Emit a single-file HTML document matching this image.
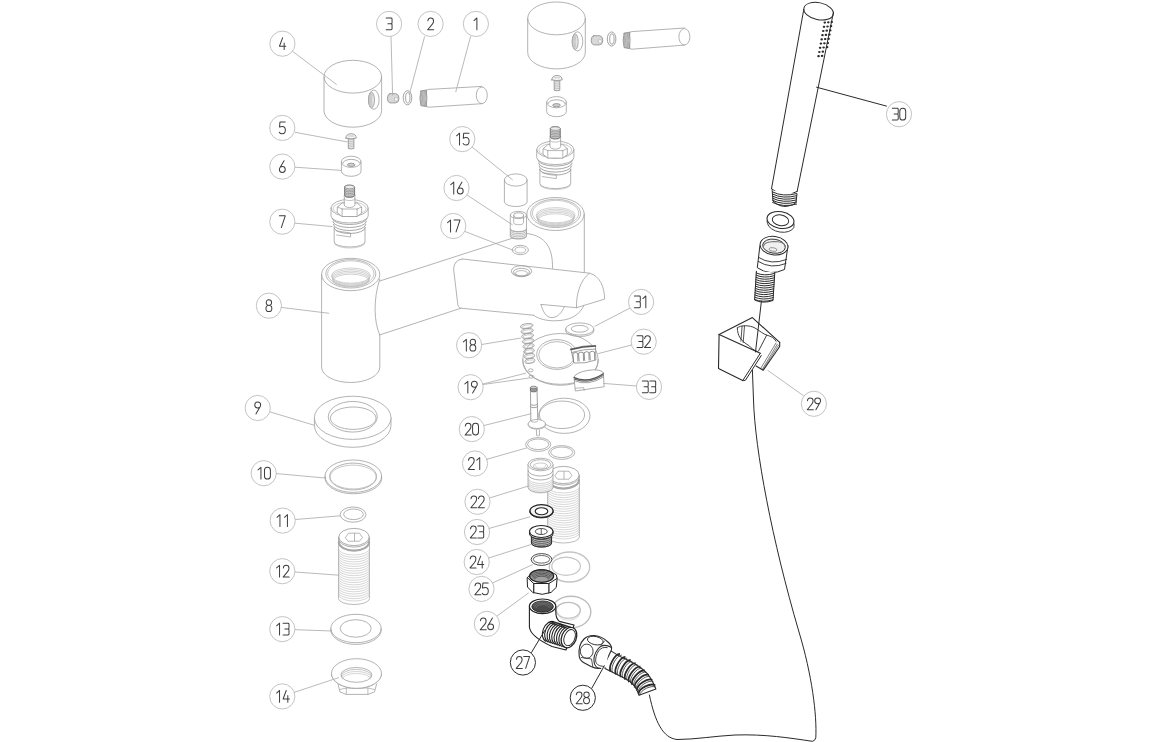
<!DOCTYPE html>
<html><head><meta charset="utf-8"><style>
html,body{margin:0;padding:0;background:#fff;width:1156px;height:742px;overflow:hidden;font-family:"Liberation Sans",sans-serif;}
svg{display:block}
</style></head><body>
<svg width="1156" height="742" viewBox="0 0 1156 742">
<rect width="1156" height="742" fill="#fff"/>
<g>
<path d="M324.0,76.7 L324.0,110.7 A28.8,16.5 0 0 0 381.6,110.7 L381.6,76.7" fill="none" stroke="#a0a0a0" stroke-width="0.8" stroke-linejoin="round" stroke-linecap="round"/>
<ellipse cx="352.8" cy="76.7" rx="28.8" ry="16.4" fill="none" stroke="#a0a0a0" stroke-width="0.8"/>
<ellipse cx="373.8" cy="99.7" rx="5.3" ry="9.6" fill="none" stroke="#a0a0a0" stroke-width="0.8"/>
<ellipse cx="371.5" cy="100.0" rx="3.0" ry="7.8" fill="#e4e4e4" stroke="#9a9a9a" stroke-width="0.8"/>
<path d="M370.0,93.2 Q368.3,100.0 370.0,106.7" fill="none" stroke="#aaa" stroke-width="0.5" stroke-linejoin="round" stroke-linecap="round"/>
<path d="M371.1,93.5 Q369.40000000000003,100.0 371.1,106.4" fill="none" stroke="#aaa" stroke-width="0.5" stroke-linejoin="round" stroke-linecap="round"/>
<path d="M372.2,93.8 Q370.5,100.0 372.2,106.10000000000001" fill="none" stroke="#aaa" stroke-width="0.5" stroke-linejoin="round" stroke-linecap="round"/>
<path d="M389.9,93.7 L395.9,93.7 Q399.0,94.3 399.0,98.3 Q399.0,102.5 395.9,102.89999999999999 L389.9,102.89999999999999 Q387.4,102.3 387.4,98.3 Q387.4,94.3 389.9,93.7 Z" fill="#d9d9d9" stroke="#8a8a8a" stroke-width="0.8" stroke-linejoin="round" stroke-linecap="round"/>
<path d="M394.9,97.8 L397.9,97.8 L397.9,100.8 L394.9,100.8 Z" fill="#fafafa" stroke="#aaa" stroke-width="0.5" stroke-linejoin="round" stroke-linecap="round"/>
<ellipse cx="407.5" cy="97.8" rx="4.3" ry="7.1" fill="none" stroke="#8d8d8d" stroke-width="0.8"/>
<ellipse cx="407.8" cy="97.8" rx="2.2" ry="5.2" fill="none" stroke="#8d8d8d" stroke-width="0.8"/>
<path d="M426.7,90.0 Q427.4,89.6 428.9,89.39999999999999 L481.8,86.4 M426.7,106.6 Q427.4,107.1 428.9,107.2 L481.8,103.69999999999999" fill="none" stroke="#a0a0a0" stroke-width="0.8" stroke-linejoin="round" stroke-linecap="round"/>
<path d="M426.7,90.0 Q425.2,98.19999999999999 426.7,106.6" fill="none" stroke="#999" stroke-width="0.6" stroke-linejoin="round" stroke-linecap="round"/>
<ellipse cx="481.8" cy="95.3" rx="5.5" ry="8.299999999999999" fill="none" stroke="#a0a0a0" stroke-width="0.8"/>
<path d="M420.9,91.1 L426.2,90.0 Q427.59999999999997,98.19999999999999 426.2,106.6 L420.9,105.6 Q418.79999999999995,98.19999999999999 420.9,91.1 Z" fill="#d4d4d4" stroke="#888" stroke-width="0.8" stroke-linejoin="round" stroke-linecap="round"/>
<path d="M421.9,90.8 Q420.1,98.19999999999999 421.9,105.8" fill="none" stroke="#8a8a8a" stroke-width="0.55" stroke-linejoin="round" stroke-linecap="round"/>
<path d="M423.2,90.8 Q421.4,98.19999999999999 423.2,105.8" fill="none" stroke="#8a8a8a" stroke-width="0.55" stroke-linejoin="round" stroke-linecap="round"/>
<path d="M424.5,90.8 Q422.7,98.19999999999999 424.5,105.8" fill="none" stroke="#8a8a8a" stroke-width="0.55" stroke-linejoin="round" stroke-linecap="round"/>
<path d="M425.8,90.8 Q424.0,98.19999999999999 425.8,105.8" fill="none" stroke="#8a8a8a" stroke-width="0.55" stroke-linejoin="round" stroke-linecap="round"/>
<path d="M348.3,138.3 L348.3,148.5 Q351.1,149.5 353.90000000000003,148.5 L353.90000000000003,138.3" fill="#ececec" stroke="#8a8a8a" stroke-width="0.8" stroke-linejoin="round" stroke-linecap="round"/>
<line x1="348.3" y1="140.0" x2="353.90000000000003" y2="139.3" stroke="#9a9a9a" stroke-width="0.5"/>
<line x1="348.3" y1="141.8" x2="353.90000000000003" y2="141.10000000000002" stroke="#9a9a9a" stroke-width="0.5"/>
<line x1="348.3" y1="143.6" x2="353.90000000000003" y2="142.9" stroke="#9a9a9a" stroke-width="0.5"/>
<line x1="348.3" y1="145.4" x2="353.90000000000003" y2="144.70000000000002" stroke="#9a9a9a" stroke-width="0.5"/>
<line x1="348.3" y1="147.2" x2="353.90000000000003" y2="146.5" stroke="#9a9a9a" stroke-width="0.5"/>
<path d="M345.90000000000003,138.1 Q345.90000000000003,133.9 351.1,133.7 Q356.3,133.9 356.3,138.1 Q351.1,139.7 345.90000000000003,138.1 Z" fill="#f4f4f4" stroke="#8a8a8a" stroke-width="0.8" stroke-linejoin="round" stroke-linecap="round"/>
<path d="M348.6,136.0 L353.6,136.0" fill="none" stroke="#aaa" stroke-width="0.6" stroke-linejoin="round" stroke-linecap="round"/>
<path d="M341.4,161.8 L341.4,171.3 A9.8,5 0 0 0 361.0,171.3 L361.0,161.8" fill="none" stroke="#a0a0a0" stroke-width="0.8" stroke-linejoin="round" stroke-linecap="round"/>
<ellipse cx="351.2" cy="161.8" rx="9.8" ry="5.6" fill="none" stroke="#a0a0a0" stroke-width="0.8"/>
<path d="M342.9,163.0 A8.3,3.6 0 0 1 359.5,163.0" fill="none" stroke="#9a9a9a" stroke-width="0.8" stroke-linejoin="round" stroke-linecap="round"/>
<ellipse cx="351.2" cy="164.8" rx="3.8" ry="1.6" fill="#cfcfcf" stroke="#888" stroke-width="0.8"/>
<path d="M334.20000000000005,228.0 L334.20000000000005,242.0 A15.4,5 0 0 0 365.0,242.0 L365.0,228.0" fill="none" stroke="#a0a0a0" stroke-width="0.8" stroke-linejoin="round" stroke-linecap="round"/>
<path d="M334.20000000000005,243.0 A15.4,5 0 0 0 365.0,243.0" fill="none" stroke="#b0b0b0" stroke-width="0.6" stroke-linejoin="round" stroke-linecap="round"/>
<path d="M332.3,218.5 A17.3,6 0 0 0 366.90000000000003,218.5" fill="none" stroke="#909090" stroke-width="0.8" stroke-linejoin="round" stroke-linecap="round"/>
<path d="M332.8,221.5 A16.8,6 0 0 0 366.40000000000003,221.5" fill="none" stroke="#909090" stroke-width="0.8" stroke-linejoin="round" stroke-linecap="round"/>
<path d="M333.3,224.5 A16.3,6 0 0 0 365.90000000000003,224.5" fill="none" stroke="#909090" stroke-width="0.8" stroke-linejoin="round" stroke-linecap="round"/>
<path d="M333.8,227.5 A15.8,6 0 0 0 365.40000000000003,227.5" fill="none" stroke="#909090" stroke-width="0.8" stroke-linejoin="round" stroke-linecap="round"/>
<path d="M331.0,208.0 L331.0,216.0 A18.6,7 0 0 0 368.20000000000005,216.0 L368.20000000000005,208.0" fill="none" stroke="#a0a0a0" stroke-width="0.8" stroke-linejoin="round" stroke-linecap="round"/>
<ellipse cx="349.6" cy="208.0" rx="18.6" ry="8.6" fill="none" stroke="#a0a0a0" stroke-width="0.8"/>
<ellipse cx="349.6" cy="208.5" rx="16.5" ry="6.8" fill="none" stroke="#b0b0b0" stroke-width="0.6"/>
<path d="M337.6,207.0 L342.1,203.0 L357.1,203.0 L361.6,207.0 L361.6,213.0 L357.1,216.5 L342.1,216.5 L337.6,213.0 Z" fill="#fff" stroke="#999" stroke-width="0.8" stroke-linejoin="round" stroke-linecap="round"/>
<path d="M342.1,209.0 L357.1,209.0 M342.1,209.0 L342.1,216.5 M357.1,209.0 L357.1,216.5 M337.6,207.0 L342.1,209.0 M361.6,207.0 L357.1,209.0" fill="none" stroke="#999" stroke-width="0.7" stroke-linejoin="round" stroke-linecap="round"/>
<path d="M344.3,195.0 L344.3,205.0 A5.3,2.5 0 0 0 354.90000000000003,205.0 L354.90000000000003,195.0" fill="#fff" stroke="#a0a0a0" stroke-width="0.8" stroke-linejoin="round" stroke-linecap="round"/>
<path d="M344.3,198.5 A5.3,2 0 0 0 354.90000000000003,198.5" fill="none" stroke="#999" stroke-width="0.6" stroke-linejoin="round" stroke-linecap="round"/>
<path d="M344.6,187.0 L344.6,195.5 A5,2 0 0 0 354.6,195.5 L354.6,187.0 A5,2 0 0 0 344.6,187.0 Z" fill="#d8d8d8" stroke="#707070" stroke-width="0.8" stroke-linejoin="round" stroke-linecap="round"/>
<path d="M344.6,188.5 A5,1.8 0 0 0 354.6,188.5" fill="none" stroke="#666" stroke-width="0.55" stroke-linejoin="round" stroke-linecap="round"/>
<path d="M344.6,190.1 A5,1.8 0 0 0 354.6,190.1" fill="none" stroke="#666" stroke-width="0.55" stroke-linejoin="round" stroke-linecap="round"/>
<path d="M344.6,191.7 A5,1.8 0 0 0 354.6,191.7" fill="none" stroke="#666" stroke-width="0.55" stroke-linejoin="round" stroke-linecap="round"/>
<path d="M344.6,193.3 A5,1.8 0 0 0 354.6,193.3" fill="none" stroke="#666" stroke-width="0.55" stroke-linejoin="round" stroke-linecap="round"/>
<path d="M344.6,194.9 A5,1.8 0 0 0 354.6,194.9" fill="none" stroke="#666" stroke-width="0.55" stroke-linejoin="round" stroke-linecap="round"/>
<ellipse cx="349.6" cy="187.0" rx="4.8" ry="1.8" fill="#ececec" stroke="#777" stroke-width="0.6"/>
<path d="M336.6,231.0 L350.6,233.0 L350.6,237.0 L336.6,235.0" fill="none" stroke="#999" stroke-width="0.7" stroke-linejoin="round" stroke-linecap="round"/>
<path d="M527.7,18.400000000000006 L527.7,52.400000000000006 A28.8,16.5 0 0 0 585.3,52.400000000000006 L585.3,18.400000000000006" fill="none" stroke="#a0a0a0" stroke-width="0.8" stroke-linejoin="round" stroke-linecap="round"/>
<ellipse cx="556.5" cy="18.400000000000006" rx="28.8" ry="16.4" fill="none" stroke="#a0a0a0" stroke-width="0.8"/>
<ellipse cx="577.5" cy="41.400000000000006" rx="5.3" ry="9.6" fill="none" stroke="#a0a0a0" stroke-width="0.8"/>
<ellipse cx="575.2" cy="41.7" rx="3.0" ry="7.8" fill="#e4e4e4" stroke="#9a9a9a" stroke-width="0.8"/>
<path d="M573.7,34.900000000000006 Q572.0,41.7 573.7,48.400000000000006" fill="none" stroke="#aaa" stroke-width="0.5" stroke-linejoin="round" stroke-linecap="round"/>
<path d="M574.8000000000001,35.2 Q573.1,41.7 574.8000000000001,48.10000000000001" fill="none" stroke="#aaa" stroke-width="0.5" stroke-linejoin="round" stroke-linecap="round"/>
<path d="M575.9000000000001,35.50000000000001 Q574.2,41.7 575.9000000000001,47.800000000000004" fill="none" stroke="#aaa" stroke-width="0.5" stroke-linejoin="round" stroke-linecap="round"/>
<path d="M593.7,35.699999999999996 L599.7,35.699999999999996 Q602.8000000000001,36.3 602.8000000000001,40.3 Q602.8000000000001,44.5 599.7,44.9 L593.7,44.9 Q591.2,44.3 591.2,40.3 Q591.2,36.3 593.7,35.699999999999996 Z" fill="#d9d9d9" stroke="#8a8a8a" stroke-width="0.8" stroke-linejoin="round" stroke-linecap="round"/>
<path d="M598.7,39.8 L601.7,39.8 L601.7,42.8 L598.7,42.8 Z" fill="#fafafa" stroke="#aaa" stroke-width="0.5" stroke-linejoin="round" stroke-linecap="round"/>
<ellipse cx="611.6" cy="39.0" rx="4.3" ry="7.1" fill="none" stroke="#8d8d8d" stroke-width="0.8"/>
<ellipse cx="611.9" cy="39.0" rx="2.2" ry="5.2" fill="none" stroke="#8d8d8d" stroke-width="0.8"/>
<path d="M629.9,32.2 Q630.6,31.8 632.1,31.6 L684.4,27.999999999999996 M629.9,48.599999999999994 Q630.6,49.099999999999994 632.1,49.199999999999996 L684.4,45.099999999999994" fill="none" stroke="#a0a0a0" stroke-width="0.8" stroke-linejoin="round" stroke-linecap="round"/>
<path d="M629.9,32.2 Q628.4,40.3 629.9,48.599999999999994" fill="none" stroke="#999" stroke-width="0.6" stroke-linejoin="round" stroke-linecap="round"/>
<ellipse cx="684.4" cy="36.8" rx="5.5" ry="8.2" fill="none" stroke="#a0a0a0" stroke-width="0.8"/>
<path d="M624.1,33.3 L629.4,32.2 Q630.8000000000001,40.3 629.4,48.599999999999994 L624.1,47.599999999999994 Q622.0,40.3 624.1,33.3 Z" fill="#d4d4d4" stroke="#888" stroke-width="0.8" stroke-linejoin="round" stroke-linecap="round"/>
<path d="M625.1,33.0 Q623.3,40.3 625.1,47.8" fill="none" stroke="#8a8a8a" stroke-width="0.55" stroke-linejoin="round" stroke-linecap="round"/>
<path d="M626.4,33.0 Q624.6,40.3 626.4,47.8" fill="none" stroke="#8a8a8a" stroke-width="0.55" stroke-linejoin="round" stroke-linecap="round"/>
<path d="M627.7,33.0 Q625.9,40.3 627.7,47.8" fill="none" stroke="#8a8a8a" stroke-width="0.55" stroke-linejoin="round" stroke-linecap="round"/>
<path d="M629.0,33.0 Q627.2,40.3 629.0,47.8" fill="none" stroke="#8a8a8a" stroke-width="0.55" stroke-linejoin="round" stroke-linecap="round"/>
<path d="M554.2,80.1 L554.2,90.3 Q557.0,91.3 559.8,90.3 L559.8,80.1" fill="#ececec" stroke="#8a8a8a" stroke-width="0.8" stroke-linejoin="round" stroke-linecap="round"/>
<line x1="554.2" y1="81.8" x2="559.8" y2="81.1" stroke="#9a9a9a" stroke-width="0.5"/>
<line x1="554.2" y1="83.6" x2="559.8" y2="82.89999999999999" stroke="#9a9a9a" stroke-width="0.5"/>
<line x1="554.2" y1="85.39999999999999" x2="559.8" y2="84.69999999999999" stroke="#9a9a9a" stroke-width="0.5"/>
<line x1="554.2" y1="87.2" x2="559.8" y2="86.5" stroke="#9a9a9a" stroke-width="0.5"/>
<line x1="554.2" y1="89.0" x2="559.8" y2="88.3" stroke="#9a9a9a" stroke-width="0.5"/>
<path d="M551.8,79.89999999999999 Q551.8,75.7 557.0,75.5 Q562.2,75.7 562.2,79.89999999999999 Q557.0,81.5 551.8,79.89999999999999 Z" fill="#f4f4f4" stroke="#8a8a8a" stroke-width="0.8" stroke-linejoin="round" stroke-linecap="round"/>
<path d="M554.5,77.8 L559.5,77.8" fill="none" stroke="#aaa" stroke-width="0.6" stroke-linejoin="round" stroke-linecap="round"/>
<path d="M546.7,102.2 L546.7,111.7 A9.8,5 0 0 0 566.3,111.7 L566.3,102.2" fill="none" stroke="#a0a0a0" stroke-width="0.8" stroke-linejoin="round" stroke-linecap="round"/>
<ellipse cx="556.5" cy="102.2" rx="9.8" ry="5.6" fill="none" stroke="#a0a0a0" stroke-width="0.8"/>
<path d="M548.2,103.4 A8.3,3.6 0 0 1 564.8,103.4" fill="none" stroke="#9a9a9a" stroke-width="0.8" stroke-linejoin="round" stroke-linecap="round"/>
<ellipse cx="556.5" cy="105.2" rx="3.8" ry="1.6" fill="#cfcfcf" stroke="#888" stroke-width="0.8"/>
<path d="M539.9,169.6 L539.9,183.6 A15.4,5 0 0 0 570.6999999999999,183.6 L570.6999999999999,169.6" fill="none" stroke="#a0a0a0" stroke-width="0.8" stroke-linejoin="round" stroke-linecap="round"/>
<path d="M539.9,184.6 A15.4,5 0 0 0 570.6999999999999,184.6" fill="none" stroke="#b0b0b0" stroke-width="0.6" stroke-linejoin="round" stroke-linecap="round"/>
<path d="M538.0,160.1 A17.3,6 0 0 0 572.5999999999999,160.1" fill="none" stroke="#909090" stroke-width="0.8" stroke-linejoin="round" stroke-linecap="round"/>
<path d="M538.5,163.1 A16.8,6 0 0 0 572.0999999999999,163.1" fill="none" stroke="#909090" stroke-width="0.8" stroke-linejoin="round" stroke-linecap="round"/>
<path d="M539.0,166.1 A16.3,6 0 0 0 571.5999999999999,166.1" fill="none" stroke="#909090" stroke-width="0.8" stroke-linejoin="round" stroke-linecap="round"/>
<path d="M539.5,169.1 A15.8,6 0 0 0 571.0999999999999,169.1" fill="none" stroke="#909090" stroke-width="0.8" stroke-linejoin="round" stroke-linecap="round"/>
<path d="M536.6999999999999,149.6 L536.6999999999999,157.6 A18.6,7 0 0 0 573.9,157.6 L573.9,149.6" fill="none" stroke="#a0a0a0" stroke-width="0.8" stroke-linejoin="round" stroke-linecap="round"/>
<ellipse cx="555.3" cy="149.6" rx="18.6" ry="8.6" fill="none" stroke="#a0a0a0" stroke-width="0.8"/>
<ellipse cx="555.3" cy="150.1" rx="16.5" ry="6.8" fill="none" stroke="#b0b0b0" stroke-width="0.6"/>
<path d="M543.3,148.6 L547.8,144.6 L562.8,144.6 L567.3,148.6 L567.3,154.6 L562.8,158.1 L547.8,158.1 L543.3,154.6 Z" fill="#fff" stroke="#999" stroke-width="0.8" stroke-linejoin="round" stroke-linecap="round"/>
<path d="M547.8,150.6 L562.8,150.6 M547.8,150.6 L547.8,158.1 M562.8,150.6 L562.8,158.1 M543.3,148.6 L547.8,150.6 M567.3,148.6 L562.8,150.6" fill="none" stroke="#999" stroke-width="0.7" stroke-linejoin="round" stroke-linecap="round"/>
<path d="M550.0,136.6 L550.0,146.6 A5.3,2.5 0 0 0 560.5999999999999,146.6 L560.5999999999999,136.6" fill="#fff" stroke="#a0a0a0" stroke-width="0.8" stroke-linejoin="round" stroke-linecap="round"/>
<path d="M550.0,140.1 A5.3,2 0 0 0 560.5999999999999,140.1" fill="none" stroke="#999" stroke-width="0.6" stroke-linejoin="round" stroke-linecap="round"/>
<path d="M550.3,128.6 L550.3,137.1 A5,2 0 0 0 560.3,137.1 L560.3,128.6 A5,2 0 0 0 550.3,128.6 Z" fill="#d8d8d8" stroke="#707070" stroke-width="0.8" stroke-linejoin="round" stroke-linecap="round"/>
<path d="M550.3,130.1 A5,1.8 0 0 0 560.3,130.1" fill="none" stroke="#666" stroke-width="0.55" stroke-linejoin="round" stroke-linecap="round"/>
<path d="M550.3,131.7 A5,1.8 0 0 0 560.3,131.7" fill="none" stroke="#666" stroke-width="0.55" stroke-linejoin="round" stroke-linecap="round"/>
<path d="M550.3,133.3 A5,1.8 0 0 0 560.3,133.3" fill="none" stroke="#666" stroke-width="0.55" stroke-linejoin="round" stroke-linecap="round"/>
<path d="M550.3,134.9 A5,1.8 0 0 0 560.3,134.9" fill="none" stroke="#666" stroke-width="0.55" stroke-linejoin="round" stroke-linecap="round"/>
<path d="M550.3,136.5 A5,1.8 0 0 0 560.3,136.5" fill="none" stroke="#666" stroke-width="0.55" stroke-linejoin="round" stroke-linecap="round"/>
<ellipse cx="555.3" cy="128.6" rx="4.8" ry="1.8" fill="#ececec" stroke="#777" stroke-width="0.6"/>
<path d="M542.3,172.6 L556.3,174.6 L556.3,178.6 L542.3,176.6" fill="none" stroke="#999" stroke-width="0.7" stroke-linejoin="round" stroke-linecap="round"/>
<path d="M379.8,281 L513.6,237.8" fill="none" stroke="#a0a0a0" stroke-width="0.8" stroke-linejoin="round" stroke-linecap="round"/>
<path d="M379.8,334.9 L461,308.2" fill="none" stroke="#a0a0a0" stroke-width="0.8" stroke-linejoin="round" stroke-linecap="round"/>
<path d="M526.8,233.4 C546,236 553,248 552.5,268.3" fill="none" stroke="#a0a0a0" stroke-width="0.8" stroke-linejoin="round" stroke-linecap="round"/>
<path d="M584.3,214 L584.3,272" fill="none" stroke="#a0a0a0" stroke-width="0.8" stroke-linejoin="round" stroke-linecap="round"/>
<ellipse cx="555.5" cy="214" rx="28.7" ry="16.5" fill="none" stroke="#a0a0a0" stroke-width="0.8"/>
<ellipse cx="555.6" cy="213.4" rx="25.0" ry="14.2" fill="none" stroke="#a8a8a8" stroke-width="0.8"/>
<ellipse cx="555.6" cy="213.2" rx="23.2" ry="12.8" fill="none" stroke="#b0b0b0" stroke-width="0.7"/>
<ellipse cx="555.6" cy="215.2" rx="19.5" ry="7.6" fill="none" stroke="#bdbdbd" stroke-width="0.7"/>
<ellipse cx="555.6" cy="216.45" rx="19.1" ry="7.3" fill="none" stroke="#bdbdbd" stroke-width="0.7"/>
<ellipse cx="555.6" cy="217.7" rx="18.7" ry="7.0" fill="none" stroke="#bdbdbd" stroke-width="0.7"/>
<ellipse cx="555.6" cy="218.95" rx="18.3" ry="6.699999999999999" fill="none" stroke="#bdbdbd" stroke-width="0.7"/>
<ellipse cx="555.6" cy="220.2" rx="17.9" ry="6.3999999999999995" fill="none" stroke="#bdbdbd" stroke-width="0.7"/>
<path d="M321.6,274.5 L321.6,367 A29.1,15.5 0 0 0 379.8,367 L379.8,335 C374,322 373,300 379.8,279" fill="none" stroke="#a0a0a0" stroke-width="0.8" stroke-linejoin="round" stroke-linecap="round"/>
<ellipse cx="350.7" cy="274.5" rx="29.1" ry="16.2" fill="none" stroke="#a0a0a0" stroke-width="0.8"/>
<ellipse cx="350.8" cy="273.8" rx="25.0" ry="14.2" fill="none" stroke="#a8a8a8" stroke-width="0.8"/>
<ellipse cx="350.8" cy="273.6" rx="23.2" ry="12.8" fill="none" stroke="#b0b0b0" stroke-width="0.7"/>
<ellipse cx="350.9" cy="275.6" rx="19.5" ry="7.6" fill="none" stroke="#bdbdbd" stroke-width="0.7"/>
<ellipse cx="350.9" cy="276.85" rx="19.1" ry="7.3" fill="none" stroke="#bdbdbd" stroke-width="0.7"/>
<ellipse cx="350.9" cy="278.1" rx="18.7" ry="7.0" fill="none" stroke="#bdbdbd" stroke-width="0.7"/>
<ellipse cx="350.9" cy="279.35" rx="18.3" ry="6.699999999999999" fill="none" stroke="#bdbdbd" stroke-width="0.7"/>
<ellipse cx="350.9" cy="280.6" rx="17.9" ry="6.3999999999999995" fill="none" stroke="#bdbdbd" stroke-width="0.7"/>
<path d="M462.3,259 L589.5,273.2 C600,276 604.5,287 604.6,299.1 L576.5,307.7 L541,304.4" fill="none" stroke="#a0a0a0" stroke-width="0.8" stroke-linejoin="round" stroke-linecap="round"/>
<path d="M462.3,259 Q454,260 453.6,269.1 L457.6,302.8 Q458,308 461,308.2 L533.4,315.2" fill="none" stroke="#a0a0a0" stroke-width="0.8" stroke-linejoin="round" stroke-linecap="round"/>
<path d="M589.5,273.2 C580,280 576,295 576.5,307.7" fill="none" stroke="#a0a0a0" stroke-width="0.8" stroke-linejoin="round" stroke-linecap="round"/>
<path d="M541,304.4 C543,312 546,317.5 552,317.6 C558,317.5 562,312 564.2,307.1" fill="none" stroke="#a0a0a0" stroke-width="0.8" stroke-linejoin="round" stroke-linecap="round"/>
<path d="M533.4,315.2 C540,320 550,321.5 560,320.5 C572,319.5 580,314 583.6,306.1" fill="none" stroke="#a0a0a0" stroke-width="0.8" stroke-linejoin="round" stroke-linecap="round"/>
<ellipse cx="521.5" cy="271.2" rx="10.2" ry="5.5" fill="none" stroke="#a0a0a0" stroke-width="0.8"/>
<ellipse cx="521.5" cy="272.3" rx="8.2" ry="4.0" fill="none" stroke="#999" stroke-width="0.8"/>
<ellipse cx="521.5" cy="273.2" rx="6.0" ry="2.6" fill="none" stroke="#aaa" stroke-width="0.8"/>
<path d="M514.3,272.8 A7.2,3.2 0 0 0 528.7,272.8" fill="none" stroke="#aaa" stroke-width="0.6" stroke-linejoin="round" stroke-linecap="round"/>
<path d="M504.4,180 L504.4,202 A11.4,5 0 0 0 527.1,202 L527.1,180" fill="none" stroke="#a0a0a0" stroke-width="0.8" stroke-linejoin="round" stroke-linecap="round"/>
<ellipse cx="515.75" cy="180" rx="11.35" ry="6.1" fill="none" stroke="#a0a0a0" stroke-width="0.8"/>
<path d="M510.3,215 L510.3,236.5 A8.1,2.6 0 0 0 526.5,236.5 L526.5,215" fill="#fff" stroke="#a0a0a0" stroke-width="0.8" stroke-linejoin="round" stroke-linecap="round"/>
<path d="M510.6,229.8 A7.9,2.6 0 0 0 526.2,229.8" fill="none" stroke="#8a8a8a" stroke-width="0.6" stroke-linejoin="round" stroke-linecap="round"/>
<path d="M510.6,231.4 A7.9,2.6 0 0 0 526.2,231.4" fill="none" stroke="#8a8a8a" stroke-width="0.6" stroke-linejoin="round" stroke-linecap="round"/>
<path d="M510.6,233.0 A7.9,2.6 0 0 0 526.2,233.0" fill="none" stroke="#8a8a8a" stroke-width="0.6" stroke-linejoin="round" stroke-linecap="round"/>
<path d="M510.6,234.6 A7.9,2.6 0 0 0 526.2,234.6" fill="none" stroke="#8a8a8a" stroke-width="0.6" stroke-linejoin="round" stroke-linecap="round"/>
<path d="M510.6,236.2 A7.9,2.6 0 0 0 526.2,236.2" fill="none" stroke="#8a8a8a" stroke-width="0.6" stroke-linejoin="round" stroke-linecap="round"/>
<path d="M510.3,229 A8.1,2.6 0 0 0 526.5,229" fill="none" stroke="#9a9a9a" stroke-width="0.7" stroke-linejoin="round" stroke-linecap="round"/>
<ellipse cx="518.4" cy="215" rx="8.1" ry="3.6" fill="#fff" stroke="#a0a0a0" stroke-width="0.8"/>
<ellipse cx="518.6" cy="215.3" rx="4.9" ry="2.5" fill="none" stroke="#999" stroke-width="0.8"/>
<path d="M513.7,215.5 L513.7,222.5 A4.9,2.2 0 0 0 523.5,222.5 L523.5,215.5" fill="none" stroke="#999" stroke-width="0.7" stroke-linejoin="round" stroke-linecap="round"/>
<ellipse cx="520.3" cy="250.0" rx="8.1" ry="4.7" fill="none" stroke="#a0a0a0" stroke-width="0.8"/>
<ellipse cx="520.3" cy="250.0" rx="5.5" ry="3.0" fill="none" stroke="#aaa" stroke-width="0.8"/>
<path d="M522.8,359.4 L522.8,362.5 A37.7,23 0 0 0 598.1,362.5 L598.1,359.4" fill="none" stroke="#a0a0a0" stroke-width="0.8" stroke-linejoin="round" stroke-linecap="round"/>
<ellipse cx="560.5" cy="359.4" rx="37.7" ry="25.9" fill="none" stroke="#a0a0a0" stroke-width="0.8"/>
<ellipse cx="556.9" cy="354.5" rx="20.2" ry="14.9" fill="none" stroke="#a0a0a0" stroke-width="0.8"/>
<ellipse cx="556.9" cy="354.8" rx="18.2" ry="13.2" fill="none" stroke="#aaa" stroke-width="0.8"/>
<ellipse cx="530.7" cy="370.3" rx="2.4" ry="1.5" fill="none" stroke="#a0a0a0" stroke-width="0.8"/>
<ellipse cx="531.5" cy="376.7" rx="2.4" ry="1.5" fill="none" stroke="#a0a0a0" stroke-width="0.8"/>
<ellipse cx="526.7" cy="326.0" rx="6.4" ry="2.4" fill="none" stroke="#9a9a9a" stroke-width="0.8" transform="rotate(-8 526.7 326.0)"/>
<ellipse cx="526.7" cy="326.5" rx="5.2" ry="1.5" fill="none" stroke="#b0b0b0" stroke-width="0.6" transform="rotate(-8 526.7 326.5)"/>
<ellipse cx="527.16" cy="331.0" rx="6.21" ry="2.4" fill="none" stroke="#9a9a9a" stroke-width="0.8" transform="rotate(-8 527.16 331.0)"/>
<ellipse cx="527.16" cy="331.5" rx="5.01" ry="1.5" fill="none" stroke="#b0b0b0" stroke-width="0.6" transform="rotate(-8 527.16 331.5)"/>
<ellipse cx="527.61" cy="336.0" rx="6.03" ry="2.4" fill="none" stroke="#9a9a9a" stroke-width="0.8" transform="rotate(-8 527.61 336.0)"/>
<ellipse cx="527.61" cy="336.5" rx="4.83" ry="1.5" fill="none" stroke="#b0b0b0" stroke-width="0.6" transform="rotate(-8 527.61 336.5)"/>
<ellipse cx="528.07" cy="341.0" rx="5.84" ry="2.4" fill="none" stroke="#9a9a9a" stroke-width="0.8" transform="rotate(-8 528.07 341.0)"/>
<ellipse cx="528.07" cy="341.5" rx="4.64" ry="1.5" fill="none" stroke="#b0b0b0" stroke-width="0.6" transform="rotate(-8 528.07 341.5)"/>
<ellipse cx="528.53" cy="346.0" rx="5.66" ry="2.4" fill="none" stroke="#9a9a9a" stroke-width="0.8" transform="rotate(-8 528.53 346.0)"/>
<ellipse cx="528.53" cy="346.5" rx="4.46" ry="1.5" fill="none" stroke="#b0b0b0" stroke-width="0.6" transform="rotate(-8 528.53 346.5)"/>
<ellipse cx="528.99" cy="351.0" rx="5.47" ry="2.4" fill="none" stroke="#9a9a9a" stroke-width="0.8" transform="rotate(-8 528.99 351.0)"/>
<ellipse cx="528.99" cy="351.5" rx="4.27" ry="1.5" fill="none" stroke="#b0b0b0" stroke-width="0.6" transform="rotate(-8 528.99 351.5)"/>
<ellipse cx="529.44" cy="356.0" rx="5.29" ry="2.4" fill="none" stroke="#9a9a9a" stroke-width="0.8" transform="rotate(-8 529.44 356.0)"/>
<ellipse cx="529.44" cy="356.5" rx="4.09" ry="1.5" fill="none" stroke="#b0b0b0" stroke-width="0.6" transform="rotate(-8 529.44 356.5)"/>
<ellipse cx="529.9" cy="361.0" rx="5.1" ry="2.4" fill="none" stroke="#9a9a9a" stroke-width="0.8" transform="rotate(-8 529.9 361.0)"/>
<ellipse cx="529.9" cy="361.5" rx="3.9" ry="1.5" fill="none" stroke="#b0b0b0" stroke-width="0.6" transform="rotate(-8 529.9 361.5)"/>
<path d="M570.9,349 L574,363 Q585,364 595.9,360 L595.5,345.5 Q583,345 570.9,349 Z" fill="#fff" stroke="#888" stroke-width="0.8" stroke-linejoin="round" stroke-linecap="round"/>
<path d="M571.5,352.5 Q583,349 595.7,349" fill="none" stroke="#888" stroke-width="0.8" stroke-linejoin="round" stroke-linecap="round"/>
<path d="M571.0,349.5 Q583,346.2 595.5,346.0" fill="none" stroke="#555" stroke-width="1.6" stroke-linejoin="round" stroke-linecap="round"/>
<path d="M573.5,361.5 L572.9,353.5 Q575.5,351.5 577.7,353.2 L577.9,361.0" fill="none" stroke="#777" stroke-width="0.8" stroke-linejoin="round" stroke-linecap="round"/>
<path d="M579.1,361.0 L578.5,353.1 Q581.1,351.1 583.3,352.8 L583.5,360.5" fill="none" stroke="#777" stroke-width="0.8" stroke-linejoin="round" stroke-linecap="round"/>
<path d="M584.7,360.5 L584.1,352.7 Q586.7,350.7 588.9,352.4 L589.1,360.0" fill="none" stroke="#777" stroke-width="0.8" stroke-linejoin="round" stroke-linecap="round"/>
<path d="M590.3,360.0 L589.7,352.3 Q592.3,350.3 594.5,352.0 L594.7,359.5" fill="none" stroke="#777" stroke-width="0.8" stroke-linejoin="round" stroke-linecap="round"/>
<path d="M574,377 L575.3,391 L604.2,386.7 L603.3,372.7" fill="#fff" stroke="#999" stroke-width="0.8" stroke-linejoin="round" stroke-linecap="round"/>
<path d="M575.3,388.3 L583.7,387.6 L584.1,390.5" fill="none" stroke="#999" stroke-width="0.7" stroke-linejoin="round" stroke-linecap="round"/>
<ellipse cx="588.7" cy="375.2" rx="14.7" ry="4.9" fill="#fff" stroke="#999" stroke-width="0.8" transform="rotate(-9 588.7 375.2)"/>
<path d="M574.2,377.6 Q588,383.8 603.3,373.8" fill="none" stroke="#555" stroke-width="1.2" stroke-linejoin="round" stroke-linecap="round"/>
<path d="M574.4,379.2 Q588,385.2 603.4,375.4" fill="none" stroke="#666" stroke-width="1.0" stroke-linejoin="round" stroke-linecap="round"/>
<path d="M574.5,380.8 Q588,386.6 603.5,377.0" fill="none" stroke="#888" stroke-width="0.8" stroke-linejoin="round" stroke-linecap="round"/>
<path d="M565.7,329 L565.7,331 A14,5.5 0 0 0 593.8,331 L593.8,329" fill="none" stroke="#a0a0a0" stroke-width="0.8" stroke-linejoin="round" stroke-linecap="round"/>
<ellipse cx="579.75" cy="329" rx="14.05" ry="6.1" fill="none" stroke="#a0a0a0" stroke-width="0.8"/>
<ellipse cx="579.75" cy="328.8" rx="8.5" ry="3.4" fill="none" stroke="#a0a0a0" stroke-width="0.8"/>
<ellipse cx="564.3" cy="415.8" rx="25.7" ry="17.6" fill="none" stroke="#a0a0a0" stroke-width="0.8"/>
<ellipse cx="562.0" cy="414.8" rx="22.6" ry="13.75" fill="none" stroke="#a0a0a0" stroke-width="0.8"/>
<path d="M530.5,389 L530.8,421 M537.0,389 L537.8,421" fill="none" stroke="#8a8a8a" stroke-width="0.8" stroke-linejoin="round" stroke-linecap="round"/>
<path d="M530.4,387.5 L530.4,390.5 A3.3,1.4 0 0 0 537.0,390.5 L537.0,387.5" fill="#9a9a9a" stroke="#666" stroke-width="0.8" stroke-linejoin="round" stroke-linecap="round"/>
<ellipse cx="533.7" cy="387.5" rx="3.3" ry="1.3" fill="#d0d0d0" stroke="#666" stroke-width="0.7"/>
<path d="M530.6,404.3 A3.5,1.4 0 0 0 537.3,404.3 M530.6,406.7 A3.5,1.4 0 0 0 537.3,406.7" fill="none" stroke="#8a8a8a" stroke-width="0.8" stroke-linejoin="round" stroke-linecap="round"/>
<path d="M528.1,424 L528.3,425.5 A8.7,4.3 0 0 0 545.5,425.5 L545.5,424" fill="#fff" stroke="#a0a0a0" stroke-width="0.8" stroke-linejoin="round" stroke-linecap="round"/>
<ellipse cx="536.8" cy="424.0" rx="8.7" ry="4.5" fill="#fff" stroke="#a0a0a0" stroke-width="0.8"/>
<path d="M530.8,421 A3.6,1.6 0 0 0 537.8,421" fill="none" stroke="#999" stroke-width="0.7" stroke-linejoin="round" stroke-linecap="round"/>
<line x1="536.4" y1="429.5" x2="536.6" y2="435.5" stroke="#a0a0a0" stroke-width="0.8"/>
<line x1="539.4" y1="429.5" x2="539.4" y2="435.5" stroke="#a0a0a0" stroke-width="0.8"/>
<path d="M536.6,435.5 A1.5,0.7 0 0 0 539.4,435.5" fill="none" stroke="#a0a0a0" stroke-width="0.7" stroke-linejoin="round" stroke-linecap="round"/>
<ellipse cx="538.2" cy="444.5" rx="12.6" ry="6.9" fill="none" stroke="#a0a0a0" stroke-width="0.8"/>
<ellipse cx="538.2" cy="444.3" rx="10.6" ry="5.3" fill="none" stroke="#a0a0a0" stroke-width="0.8"/>
<ellipse cx="561.7" cy="452.5" rx="13.1" ry="6.9" fill="none" stroke="#a0a0a0" stroke-width="0.8"/>
<ellipse cx="561.7" cy="452.3" rx="11.0" ry="5.3" fill="none" stroke="#a0a0a0" stroke-width="0.8"/>
<path d="M547.6,475.0 L547.6,537.0 A15.9,6 0 0 0 579.4,537.0 L579.4,475.0" fill="#fff" stroke="#a8a8a8" stroke-width="0.8" stroke-linejoin="round" stroke-linecap="round"/>
<path d="M547.6,487.0 A15.9,6 0 0 0 579.4,487.0" fill="none" stroke="#bcbcbc" stroke-width="0.6" stroke-linejoin="round" stroke-linecap="round"/>
<path d="M547.6,489.3 A15.9,6 0 0 0 579.4,489.3" fill="none" stroke="#bcbcbc" stroke-width="0.6" stroke-linejoin="round" stroke-linecap="round"/>
<path d="M547.6,491.6 A15.9,6 0 0 0 579.4,491.6" fill="none" stroke="#bcbcbc" stroke-width="0.6" stroke-linejoin="round" stroke-linecap="round"/>
<path d="M547.6,493.9 A15.9,6 0 0 0 579.4,493.9" fill="none" stroke="#bcbcbc" stroke-width="0.6" stroke-linejoin="round" stroke-linecap="round"/>
<path d="M547.6,496.2 A15.9,6 0 0 0 579.4,496.2" fill="none" stroke="#bcbcbc" stroke-width="0.6" stroke-linejoin="round" stroke-linecap="round"/>
<path d="M547.6,498.5 A15.9,6 0 0 0 579.4,498.5" fill="none" stroke="#bcbcbc" stroke-width="0.6" stroke-linejoin="round" stroke-linecap="round"/>
<path d="M547.6,500.8 A15.9,6 0 0 0 579.4,500.8" fill="none" stroke="#bcbcbc" stroke-width="0.6" stroke-linejoin="round" stroke-linecap="round"/>
<path d="M547.6,503.1 A15.9,6 0 0 0 579.4,503.1" fill="none" stroke="#bcbcbc" stroke-width="0.6" stroke-linejoin="round" stroke-linecap="round"/>
<path d="M547.6,505.4 A15.9,6 0 0 0 579.4,505.4" fill="none" stroke="#bcbcbc" stroke-width="0.6" stroke-linejoin="round" stroke-linecap="round"/>
<path d="M547.6,507.7 A15.9,6 0 0 0 579.4,507.7" fill="none" stroke="#bcbcbc" stroke-width="0.6" stroke-linejoin="round" stroke-linecap="round"/>
<path d="M547.6,510.0 A15.9,6 0 0 0 579.4,510.0" fill="none" stroke="#bcbcbc" stroke-width="0.6" stroke-linejoin="round" stroke-linecap="round"/>
<path d="M547.6,512.3 A15.9,6 0 0 0 579.4,512.3" fill="none" stroke="#bcbcbc" stroke-width="0.6" stroke-linejoin="round" stroke-linecap="round"/>
<path d="M547.6,514.6 A15.9,6 0 0 0 579.4,514.6" fill="none" stroke="#bcbcbc" stroke-width="0.6" stroke-linejoin="round" stroke-linecap="round"/>
<path d="M547.6,516.9 A15.9,6 0 0 0 579.4,516.9" fill="none" stroke="#bcbcbc" stroke-width="0.6" stroke-linejoin="round" stroke-linecap="round"/>
<path d="M547.6,519.2 A15.9,6 0 0 0 579.4,519.2" fill="none" stroke="#bcbcbc" stroke-width="0.6" stroke-linejoin="round" stroke-linecap="round"/>
<path d="M547.6,521.5 A15.9,6 0 0 0 579.4,521.5" fill="none" stroke="#bcbcbc" stroke-width="0.6" stroke-linejoin="round" stroke-linecap="round"/>
<path d="M547.6,523.8 A15.9,6 0 0 0 579.4,523.8" fill="none" stroke="#bcbcbc" stroke-width="0.6" stroke-linejoin="round" stroke-linecap="round"/>
<path d="M547.6,526.1 A15.9,6 0 0 0 579.4,526.1" fill="none" stroke="#bcbcbc" stroke-width="0.6" stroke-linejoin="round" stroke-linecap="round"/>
<path d="M547.6,528.4 A15.9,6 0 0 0 579.4,528.4" fill="none" stroke="#bcbcbc" stroke-width="0.6" stroke-linejoin="round" stroke-linecap="round"/>
<path d="M547.6,530.7 A15.9,6 0 0 0 579.4,530.7" fill="none" stroke="#bcbcbc" stroke-width="0.6" stroke-linejoin="round" stroke-linecap="round"/>
<path d="M547.6,533.0 A15.9,6 0 0 0 579.4,533.0" fill="none" stroke="#bcbcbc" stroke-width="0.6" stroke-linejoin="round" stroke-linecap="round"/>
<path d="M547.6,476.5 A15.9,8.6 0 0 0 579.4,476.5" fill="none" stroke="#999" stroke-width="0.8" stroke-linejoin="round" stroke-linecap="round"/>
<path d="M548.0,480.0 A15.5,8.6 0 0 0 579.0,480.0" fill="none" stroke="#a8a8a8" stroke-width="2.2" stroke-linejoin="round" stroke-linecap="round"/>
<ellipse cx="563.5" cy="475.0" rx="15.6" ry="8.6" fill="#fff" stroke="#999" stroke-width="0.8"/>
<path d="M555.0,475.5 L558.0,471.2 L569.0,471.2 L572.0,475.5 L569.0,479.2 L558.0,479.2 Z" fill="none" stroke="#999" stroke-width="0.7" stroke-linejoin="round" stroke-linecap="round"/>
<line x1="564.0" y1="471.2" x2="564.0" y2="479.2" stroke="#999" stroke-width="0.7"/>
<path d="M338.5,537.0 L338.5,598.5 A15.5,6 0 0 0 369.5,598.5 L369.5,537.0" fill="#fff" stroke="#a8a8a8" stroke-width="0.8" stroke-linejoin="round" stroke-linecap="round"/>
<path d="M338.5,549.0 A15.5,6 0 0 0 369.5,549.0" fill="none" stroke="#bcbcbc" stroke-width="0.6" stroke-linejoin="round" stroke-linecap="round"/>
<path d="M338.5,551.3 A15.5,6 0 0 0 369.5,551.3" fill="none" stroke="#bcbcbc" stroke-width="0.6" stroke-linejoin="round" stroke-linecap="round"/>
<path d="M338.5,553.6 A15.5,6 0 0 0 369.5,553.6" fill="none" stroke="#bcbcbc" stroke-width="0.6" stroke-linejoin="round" stroke-linecap="round"/>
<path d="M338.5,555.9 A15.5,6 0 0 0 369.5,555.9" fill="none" stroke="#bcbcbc" stroke-width="0.6" stroke-linejoin="round" stroke-linecap="round"/>
<path d="M338.5,558.2 A15.5,6 0 0 0 369.5,558.2" fill="none" stroke="#bcbcbc" stroke-width="0.6" stroke-linejoin="round" stroke-linecap="round"/>
<path d="M338.5,560.5 A15.5,6 0 0 0 369.5,560.5" fill="none" stroke="#bcbcbc" stroke-width="0.6" stroke-linejoin="round" stroke-linecap="round"/>
<path d="M338.5,562.8 A15.5,6 0 0 0 369.5,562.8" fill="none" stroke="#bcbcbc" stroke-width="0.6" stroke-linejoin="round" stroke-linecap="round"/>
<path d="M338.5,565.1 A15.5,6 0 0 0 369.5,565.1" fill="none" stroke="#bcbcbc" stroke-width="0.6" stroke-linejoin="round" stroke-linecap="round"/>
<path d="M338.5,567.4 A15.5,6 0 0 0 369.5,567.4" fill="none" stroke="#bcbcbc" stroke-width="0.6" stroke-linejoin="round" stroke-linecap="round"/>
<path d="M338.5,569.7 A15.5,6 0 0 0 369.5,569.7" fill="none" stroke="#bcbcbc" stroke-width="0.6" stroke-linejoin="round" stroke-linecap="round"/>
<path d="M338.5,572.0 A15.5,6 0 0 0 369.5,572.0" fill="none" stroke="#bcbcbc" stroke-width="0.6" stroke-linejoin="round" stroke-linecap="round"/>
<path d="M338.5,574.3 A15.5,6 0 0 0 369.5,574.3" fill="none" stroke="#bcbcbc" stroke-width="0.6" stroke-linejoin="round" stroke-linecap="round"/>
<path d="M338.5,576.6 A15.5,6 0 0 0 369.5,576.6" fill="none" stroke="#bcbcbc" stroke-width="0.6" stroke-linejoin="round" stroke-linecap="round"/>
<path d="M338.5,578.9 A15.5,6 0 0 0 369.5,578.9" fill="none" stroke="#bcbcbc" stroke-width="0.6" stroke-linejoin="round" stroke-linecap="round"/>
<path d="M338.5,581.2 A15.5,6 0 0 0 369.5,581.2" fill="none" stroke="#bcbcbc" stroke-width="0.6" stroke-linejoin="round" stroke-linecap="round"/>
<path d="M338.5,583.5 A15.5,6 0 0 0 369.5,583.5" fill="none" stroke="#bcbcbc" stroke-width="0.6" stroke-linejoin="round" stroke-linecap="round"/>
<path d="M338.5,585.8 A15.5,6 0 0 0 369.5,585.8" fill="none" stroke="#bcbcbc" stroke-width="0.6" stroke-linejoin="round" stroke-linecap="round"/>
<path d="M338.5,588.1 A15.5,6 0 0 0 369.5,588.1" fill="none" stroke="#bcbcbc" stroke-width="0.6" stroke-linejoin="round" stroke-linecap="round"/>
<path d="M338.5,590.4 A15.5,6 0 0 0 369.5,590.4" fill="none" stroke="#bcbcbc" stroke-width="0.6" stroke-linejoin="round" stroke-linecap="round"/>
<path d="M338.5,592.7 A15.5,6 0 0 0 369.5,592.7" fill="none" stroke="#bcbcbc" stroke-width="0.6" stroke-linejoin="round" stroke-linecap="round"/>
<path d="M338.5,595.0 A15.5,6 0 0 0 369.5,595.0" fill="none" stroke="#bcbcbc" stroke-width="0.6" stroke-linejoin="round" stroke-linecap="round"/>
<path d="M338.5,538.5 A15.5,8.6 0 0 0 369.5,538.5" fill="none" stroke="#999" stroke-width="0.8" stroke-linejoin="round" stroke-linecap="round"/>
<path d="M338.9,542.0 A15.1,8.6 0 0 0 369.1,542.0" fill="none" stroke="#a8a8a8" stroke-width="2.2" stroke-linejoin="round" stroke-linecap="round"/>
<ellipse cx="354.0" cy="537.0" rx="15.2" ry="8.6" fill="#fff" stroke="#999" stroke-width="0.8"/>
<path d="M345.5,537.5 L348.5,533.2 L359.5,533.2 L362.5,537.5 L359.5,541.2 L348.5,541.2 Z" fill="none" stroke="#999" stroke-width="0.7" stroke-linejoin="round" stroke-linecap="round"/>
<line x1="354.5" y1="533.2" x2="354.5" y2="541.2" stroke="#999" stroke-width="0.7"/>
<path d="M528,464.5 L528,487.5 A12.5,5 0 0 0 553,487.5 L553,464.5" fill="#fff" stroke="#a0a0a0" stroke-width="0.8" stroke-linejoin="round" stroke-linecap="round"/>
<path d="M528.3,478.5 A12.2,5 0 0 0 552.7,478.5" fill="none" stroke="#b5b5b5" stroke-width="0.6" stroke-linejoin="round" stroke-linecap="round"/>
<path d="M528.3,480.4 A12.2,5 0 0 0 552.7,480.4" fill="none" stroke="#b5b5b5" stroke-width="0.6" stroke-linejoin="round" stroke-linecap="round"/>
<path d="M528.3,482.3 A12.2,5 0 0 0 552.7,482.3" fill="none" stroke="#b5b5b5" stroke-width="0.6" stroke-linejoin="round" stroke-linecap="round"/>
<path d="M528.3,484.2 A12.2,5 0 0 0 552.7,484.2" fill="none" stroke="#b5b5b5" stroke-width="0.6" stroke-linejoin="round" stroke-linecap="round"/>
<path d="M528.3,486.1 A12.2,5 0 0 0 552.7,486.1" fill="none" stroke="#b5b5b5" stroke-width="0.6" stroke-linejoin="round" stroke-linecap="round"/>
<path d="M528.3,488.0 A12.2,5 0 0 0 552.7,488.0" fill="none" stroke="#b5b5b5" stroke-width="0.6" stroke-linejoin="round" stroke-linecap="round"/>
<path d="M528,470.5 A12.5,5.5 0 0 0 553,470.5" fill="none" stroke="#999" stroke-width="0.8" stroke-linejoin="round" stroke-linecap="round"/>
<path d="M528,474.5 A12.5,5.5 0 0 0 553,474.5" fill="none" stroke="#999" stroke-width="0.8" stroke-linejoin="round" stroke-linecap="round"/>
<ellipse cx="540.5" cy="464.5" rx="12.5" ry="6.3" fill="#fff" stroke="#a0a0a0" stroke-width="0.8"/>
<ellipse cx="540.5" cy="464.6" rx="10.3" ry="4.9" fill="none" stroke="#a0a0a0" stroke-width="0.8"/>
<ellipse cx="540.5" cy="466.0" rx="7.2" ry="3.0" fill="none" stroke="#bbb" stroke-width="0.8"/>
<path d="M535,465 L537,468 L544,468 L546,465" fill="none" stroke="#bbb" stroke-width="0.6" stroke-linejoin="round" stroke-linecap="round"/>
<path d="M529.9,511.2 L530.2,513 A11.5,6 0 0 0 552.8,513 L553.1,511.2" fill="#fff" stroke="#222" stroke-width="1.0" stroke-linejoin="round" stroke-linecap="round"/>
<ellipse cx="541.5" cy="511.0" rx="11.6" ry="6.3" fill="#f4f4f4" stroke="#222" stroke-width="1.3"/>
<ellipse cx="541.5" cy="511.3" rx="6.3" ry="3.5" fill="#fff" stroke="#222" stroke-width="1.1"/>
<path d="M531.4,532 L531.4,543 A10.1,4 0 0 0 551.6,543 L551.6,532" fill="#bdbdbd" stroke="#222" stroke-width="1.0" stroke-linejoin="round" stroke-linecap="round"/>
<path d="M531.4,536.0 A10.1,3.6 0 0 0 551.6,536.0" fill="none" stroke="#333" stroke-width="0.7" stroke-linejoin="round" stroke-linecap="round"/>
<path d="M531.4,537.9 A10.1,3.6 0 0 0 551.6,537.9" fill="none" stroke="#333" stroke-width="0.7" stroke-linejoin="round" stroke-linecap="round"/>
<path d="M531.4,539.8 A10.1,3.6 0 0 0 551.6,539.8" fill="none" stroke="#333" stroke-width="0.7" stroke-linejoin="round" stroke-linecap="round"/>
<path d="M531.4,541.7 A10.1,3.6 0 0 0 551.6,541.7" fill="none" stroke="#333" stroke-width="0.7" stroke-linejoin="round" stroke-linecap="round"/>
<path d="M531.4,543.6 A10.1,3.6 0 0 0 551.6,543.6" fill="none" stroke="#333" stroke-width="0.7" stroke-linejoin="round" stroke-linecap="round"/>
<path d="M529.5,531.5 L529.5,534 A11.75,5 0 0 0 553,534 L553,531.5" fill="#fff" stroke="#222" stroke-width="1.0" stroke-linejoin="round" stroke-linecap="round"/>
<ellipse cx="541.25" cy="531.5" rx="11.75" ry="6.0" fill="#fff" stroke="#222" stroke-width="1.1"/>
<ellipse cx="541.25" cy="531.5" rx="6.0" ry="3.0" fill="none" stroke="#333" stroke-width="0.9"/>
<line x1="541.25" y1="528.8" x2="541.25" y2="534.2" stroke="#333" stroke-width="0.8"/>
<ellipse cx="569.5" cy="567.0" rx="20.2" ry="15.0" fill="#fff" stroke="#c4c4c4" stroke-width="1.3"/>
<ellipse cx="566.1" cy="566.3" rx="14.3" ry="9.1" fill="none" stroke="#c4c4c4" stroke-width="1.2"/>
<ellipse cx="541.5" cy="559.5" rx="10.4" ry="5.9" fill="#fff" stroke="#333" stroke-width="0.9"/>
<ellipse cx="541.5" cy="559.3" rx="8.2" ry="3.8" fill="none" stroke="#444" stroke-width="0.8"/>
<path d="M527.4,577.6 L533.3,571.2 L541.2,569.6 L549.8,571.2 L556.3,574.8 L557.1,578.4 L556.3,587.3 L551.1,592.4 L542.2,594.3 L532.6,592.4 L527.8,587.3 Z" fill="#fff" stroke="#222" stroke-width="1.0" stroke-linejoin="round" stroke-linecap="round"/>
<ellipse cx="541.6" cy="576.0" rx="12.0" ry="6.4" fill="#a0a0a0" stroke="#222" stroke-width="1.3"/>
<path d="M531.0,575.0 A10.6,4.8 0 0 1 552.2,575.0" fill="none" stroke="#333" stroke-width="0.7" stroke-linejoin="round" stroke-linecap="round"/>
<path d="M531.9,576.0 A9.7,4.3 0 0 1 551.3,576.0" fill="none" stroke="#333" stroke-width="0.7" stroke-linejoin="round" stroke-linecap="round"/>
<path d="M532.8,577.0 A8.8,3.8 0 0 1 550.4,577.0" fill="none" stroke="#333" stroke-width="0.7" stroke-linejoin="round" stroke-linecap="round"/>
<path d="M533.7,578.0 A7.9,3.3 0 0 1 549.5,578.0" fill="none" stroke="#333" stroke-width="0.7" stroke-linejoin="round" stroke-linecap="round"/>
<path d="M534.6,579.0 A7.0,2.8 0 0 1 548.6,579.0" fill="none" stroke="#333" stroke-width="0.7" stroke-linejoin="round" stroke-linecap="round"/>
<path d="M527.4,577.6 L533.7,583.5 L548.9,583.5 L557.1,578.4" fill="none" stroke="#222" stroke-width="1.0" stroke-linejoin="round" stroke-linecap="round"/>
<path d="M533.7,583.5 L533.7,592.8 M548.9,583.5 L548.9,592.8" fill="none" stroke="#333" stroke-width="1.3" stroke-linejoin="round" stroke-linecap="round"/>
<ellipse cx="571.0" cy="612.0" rx="19.8" ry="15.8" fill="#fff" stroke="#bdbdbd" stroke-width="1.4"/>
<ellipse cx="568.3" cy="610.3" rx="12.0" ry="8.0" fill="none" stroke="#bdbdbd" stroke-width="1.3"/>
<path d="M557.5,613 A11.5,7 0 0 0 580,613" fill="none" stroke="#cfcfcf" stroke-width="0.8" stroke-linejoin="round" stroke-linecap="round"/>
<path d="M558.5,615.5 A10.5,6 0 0 0 579,615.5" fill="none" stroke="#cfcfcf" stroke-width="0.8" stroke-linejoin="round" stroke-linecap="round"/>
<path d="M529.4,606.5 L529.4,627 C530,634 538,640 552,646.5 L566,650 L574,625 L559.3,621.4 C557,619.5 555.8,617 555.8,612 L555.8,606.5" fill="#fff" stroke="#222" stroke-width="1.1" stroke-linejoin="round" stroke-linecap="round"/>
<ellipse cx="542.6" cy="606.3" rx="13.2" ry="7.3" fill="#fff" stroke="#222" stroke-width="1.2"/>
<ellipse cx="542.6" cy="606.6" rx="10.7" ry="5.6" fill="#4a4a4a" stroke="#222" stroke-width="1.0"/>
<path d="M533.0,606.0 A9.6,4.2 0 0 1 552.2,606.0" fill="none" stroke="#888" stroke-width="0.5" stroke-linejoin="round" stroke-linecap="round"/>
<path d="M534.5,606.8 A8.1,3.6 0 0 1 550.7,606.8" fill="none" stroke="#888" stroke-width="0.5" stroke-linejoin="round" stroke-linecap="round"/>
<path d="M536.0,607.6 A6.6,3.0 0 0 1 549.2,607.6" fill="none" stroke="#888" stroke-width="0.5" stroke-linejoin="round" stroke-linecap="round"/>
<path transform="translate(550.20,631.60) rotate(22)" d="M0,-10.6 A7.3,10.6 0 0 0 0,10.6" fill="none" stroke="#222" stroke-width="1.1"/>
<path transform="translate(552.55,632.35) rotate(22)" d="M0,-10.6 A7.3,10.6 0 0 0 0,10.6" fill="none" stroke="#222" stroke-width="1.1"/>
<path transform="translate(554.90,633.10) rotate(22)" d="M0,-10.6 A7.3,10.6 0 0 0 0,10.6" fill="none" stroke="#222" stroke-width="1.1"/>
<path transform="translate(557.25,633.85) rotate(22)" d="M0,-10.6 A7.3,10.6 0 0 0 0,10.6" fill="none" stroke="#222" stroke-width="1.1"/>
<path transform="translate(559.60,634.60) rotate(22)" d="M0,-10.6 A7.3,10.6 0 0 0 0,10.6" fill="none" stroke="#222" stroke-width="1.1"/>
<path transform="translate(561.95,635.35) rotate(22)" d="M0,-10.6 A7.3,10.6 0 0 0 0,10.6" fill="none" stroke="#222" stroke-width="1.1"/>
<path transform="translate(564.30,636.10) rotate(22)" d="M0,-10.6 A7.3,10.6 0 0 0 0,10.6" fill="none" stroke="#222" stroke-width="1.1"/>
<path transform="translate(566.65,636.85) rotate(22)" d="M0,-10.6 A7.3,10.6 0 0 0 0,10.6" fill="none" stroke="#222" stroke-width="1.1"/>
<path d="M548.6,622.4 L566,628" fill="none" stroke="#222" stroke-width="1.0" stroke-linejoin="round" stroke-linecap="round"/>
<ellipse cx="569.0" cy="637.6" rx="7.3" ry="10.6" fill="#fff" stroke="#222" stroke-width="1.3" transform="rotate(22 569.0 637.6)"/>
<ellipse cx="569.6" cy="637.6" rx="5.3" ry="8.4" fill="#fff" stroke="#222" stroke-width="0.9" transform="rotate(22 569.6 637.6)"/>
<path d="M314.4,417.8 L314.4,425.5 A38.3,21.8 0 0 0 391,425.5 L391,417.8" fill="#fff" stroke="#a0a0a0" stroke-width="0.8" stroke-linejoin="round" stroke-linecap="round"/>
<ellipse cx="352.7" cy="417.8" rx="38.3" ry="21.6" fill="#fff" stroke="#a0a0a0" stroke-width="0.8"/>
<ellipse cx="352.75" cy="416.75" rx="24.5" ry="15.3" fill="none" stroke="#a0a0a0" stroke-width="0.8"/>
<ellipse cx="353.2" cy="418.2" rx="22.8" ry="11.2" fill="none" stroke="#a0a0a0" stroke-width="0.8"/>
<path d="M325.0,476.2 L325.3,479.5 A28.3,15.9 0 0 0 381.6,479.5 L381.6,476.2" fill="none" stroke="#a0a0a0" stroke-width="0.8" stroke-linejoin="round" stroke-linecap="round"/>
<ellipse cx="353.3" cy="476.2" rx="28.3" ry="16.2" fill="none" stroke="#a0a0a0" stroke-width="0.8"/>
<ellipse cx="353.1" cy="476.5" rx="23.5" ry="13.4" fill="none" stroke="#a0a0a0" stroke-width="0.8"/>
<ellipse cx="353.1" cy="477.0" rx="23.0" ry="11.9" fill="none" stroke="#b0b0b0" stroke-width="0.7"/>
<ellipse cx="353.1" cy="514.6" rx="12.9" ry="7.6" fill="none" stroke="#a0a0a0" stroke-width="0.8"/>
<ellipse cx="353.5" cy="514.3" rx="9.85" ry="5.3" fill="none" stroke="#a0a0a0" stroke-width="0.8"/>
<path d="M330.8,628.5 L330.8,630 A25.2,14.4 0 0 0 381.2,630 L381.2,628.5" fill="none" stroke="#a0a0a0" stroke-width="0.8" stroke-linejoin="round" stroke-linecap="round"/>
<ellipse cx="356.0" cy="628.5" rx="25.2" ry="14.2" fill="none" stroke="#a0a0a0" stroke-width="0.8"/>
<ellipse cx="355.7" cy="628.45" rx="15.5" ry="8.75" fill="none" stroke="#a0a0a0" stroke-width="0.8"/>
<path d="M338,684 L340,692 L346.3,694.4 L367.9,694.4 L374.5,692 L376.6,684" fill="#fff" stroke="#a0a0a0" stroke-width="0.8" stroke-linejoin="round" stroke-linecap="round"/>
<path d="M346.3,688 L346.3,694.4 M367.9,688 L367.9,694.4 M340,689.5 L346.3,688 L367.9,688 L374.5,689.5" fill="none" stroke="#a0a0a0" stroke-width="0.7" stroke-linejoin="round" stroke-linecap="round"/>
<path d="M331.5,673.5 L331.8,676 A25,14.8 0 0 0 381.2,676 L381.5,673.5" fill="#fff" stroke="#a0a0a0" stroke-width="0.8" stroke-linejoin="round" stroke-linecap="round"/>
<ellipse cx="356.5" cy="673.5" rx="25.0" ry="14.8" fill="#fff" stroke="#a0a0a0" stroke-width="0.8"/>
<ellipse cx="356.4" cy="674.9" rx="15.5" ry="7.4" fill="none" stroke="#a0a0a0" stroke-width="0.8"/>
<path d="M341.2,676 A15.2,6.6 0 0 1 371.6,676" fill="none" stroke="#aaa" stroke-width="0.7" stroke-linejoin="round" stroke-linecap="round"/>
<path d="M341.6,677.5 A14.8,6.0 0 0 1 371.2,677.5" fill="none" stroke="#b5b5b5" stroke-width="0.6" stroke-linejoin="round" stroke-linecap="round"/>
<path d="M342.2,679 A14.2,5.5 0 0 1 370.6,679" fill="none" stroke="#bbb" stroke-width="0.6" stroke-linejoin="round" stroke-linecap="round"/>
<path d="M803.8,9.4 L771.5,188.8 M833.5,12.1 L797.1,191.5" fill="none" stroke="#2a2a2a" stroke-width="1.0" stroke-linejoin="round" stroke-linecap="round"/>
<ellipse cx="818.6" cy="11.2" rx="15.0" ry="8.5" fill="none" stroke="#2a2a2a" stroke-width="1.0" transform="rotate(12 818.6 11.2)"/>
<path d="M771.5,188.8 Q784,199 797.1,191.5" fill="none" stroke="#2a2a2a" stroke-width="1.0" stroke-linejoin="round" stroke-linecap="round"/>
<ellipse cx="824.80" cy="22.60" rx="1.3" ry="1.1" fill="#2a2a2a"/>
<ellipse cx="828.30" cy="22.30" rx="1.3" ry="1.1" fill="#2a2a2a"/>
<ellipse cx="831.80" cy="22.00" rx="1.3" ry="1.1" fill="#2a2a2a"/>
<ellipse cx="824.02" cy="26.80" rx="1.3" ry="1.1" fill="#2a2a2a"/>
<ellipse cx="827.52" cy="26.50" rx="1.3" ry="1.1" fill="#2a2a2a"/>
<ellipse cx="831.02" cy="26.20" rx="1.3" ry="1.1" fill="#2a2a2a"/>
<ellipse cx="823.24" cy="31.00" rx="1.3" ry="1.1" fill="#2a2a2a"/>
<ellipse cx="826.74" cy="30.70" rx="1.3" ry="1.1" fill="#2a2a2a"/>
<ellipse cx="830.24" cy="30.40" rx="1.3" ry="1.1" fill="#2a2a2a"/>
<ellipse cx="822.46" cy="35.20" rx="1.3" ry="1.1" fill="#2a2a2a"/>
<ellipse cx="825.96" cy="34.90" rx="1.3" ry="1.1" fill="#2a2a2a"/>
<ellipse cx="829.46" cy="34.60" rx="1.3" ry="1.1" fill="#2a2a2a"/>
<ellipse cx="821.68" cy="39.40" rx="1.3" ry="1.1" fill="#2a2a2a"/>
<ellipse cx="825.18" cy="39.10" rx="1.3" ry="1.1" fill="#2a2a2a"/>
<ellipse cx="828.68" cy="38.80" rx="1.3" ry="1.1" fill="#2a2a2a"/>
<ellipse cx="820.90" cy="43.60" rx="1.3" ry="1.1" fill="#2a2a2a"/>
<ellipse cx="824.40" cy="43.30" rx="1.3" ry="1.1" fill="#2a2a2a"/>
<ellipse cx="827.90" cy="43.00" rx="1.3" ry="1.1" fill="#2a2a2a"/>
<ellipse cx="820.12" cy="47.80" rx="1.3" ry="1.1" fill="#2a2a2a"/>
<ellipse cx="823.62" cy="47.50" rx="1.3" ry="1.1" fill="#2a2a2a"/>
<ellipse cx="827.12" cy="47.20" rx="1.3" ry="1.1" fill="#2a2a2a"/>
<ellipse cx="819.34" cy="52.00" rx="1.3" ry="1.1" fill="#2a2a2a"/>
<ellipse cx="822.84" cy="51.70" rx="1.3" ry="1.1" fill="#2a2a2a"/>
<ellipse cx="818.56" cy="56.20" rx="1.3" ry="1.1" fill="#2a2a2a"/>
<ellipse cx="822.06" cy="55.90" rx="1.3" ry="1.1" fill="#2a2a2a"/>
<path d="M772.2,190.5 L773,201 Q780,207.5 787,206.3 Q794,205 795.9,202.8 L797,194" fill="#fff" stroke="#2a2a2a" stroke-width="1.0" stroke-linejoin="round" stroke-linecap="round"/>
<path d="M772.6,192.0 Q783,197.2 796.6,193.6" fill="none" stroke="#2a2a2a" stroke-width="1.0" stroke-linejoin="round" stroke-linecap="round"/>
<path d="M772.6,194.1 Q783,199.3 796.6,195.7" fill="none" stroke="#2a2a2a" stroke-width="1.0" stroke-linejoin="round" stroke-linecap="round"/>
<path d="M772.6,196.2 Q783,201.4 796.6,197.8" fill="none" stroke="#2a2a2a" stroke-width="1.0" stroke-linejoin="round" stroke-linecap="round"/>
<path d="M772.6,198.3 Q783,203.5 796.6,199.9" fill="none" stroke="#2a2a2a" stroke-width="1.0" stroke-linejoin="round" stroke-linecap="round"/>
<path d="M772.6,200.4 Q783,205.6 796.6,202.0" fill="none" stroke="#2a2a2a" stroke-width="1.0" stroke-linejoin="round" stroke-linecap="round"/>
<path d="M772.6,202.5 Q783,207.7 796.6,204.1" fill="none" stroke="#2a2a2a" stroke-width="1.0" stroke-linejoin="round" stroke-linecap="round"/>
<path d="M767,221 L767.5,223.5 A13.6,8.3 10 0 0 793.8,227.5 L794.1,224" fill="#fff" stroke="#2a2a2a" stroke-width="0.9" stroke-linejoin="round" stroke-linecap="round"/>
<ellipse cx="780.5" cy="220.0" rx="13.6" ry="8.3" fill="#fff" stroke="#2a2a2a" stroke-width="1.1" transform="rotate(10 780.5 220.0)"/>
<ellipse cx="780.5" cy="220.3" rx="8.3" ry="5.3" fill="none" stroke="#2a2a2a" stroke-width="1.0" transform="rotate(10 780.5 220.3)"/>
<path d="M759.9,245.7 L757.3,267.7 Q770,276.5 784.5,269.5 L788,245.7" fill="#fff" stroke="#2a2a2a" stroke-width="1.0" stroke-linejoin="round" stroke-linecap="round"/>
<path d="M758.8,257.5 Q771,265.5 786.5,259.5" fill="none" stroke="#2a2a2a" stroke-width="0.9" stroke-linejoin="round" stroke-linecap="round"/>
<path d="M758.4,261.5 Q771,269.5 786.0,263.5" fill="none" stroke="#2a2a2a" stroke-width="0.9" stroke-linejoin="round" stroke-linecap="round"/>
<ellipse cx="774.0" cy="245.7" rx="14.0" ry="9.2" fill="#fff" stroke="#2a2a2a" stroke-width="1.0" transform="rotate(8 774.0 245.7)"/>
<ellipse cx="774.0" cy="246.2" rx="11.4" ry="7.0" fill="#f0f0f0" stroke="#2a2a2a" stroke-width="0.9" transform="rotate(8 774.0 246.2)"/>
<path d="M763.5,246 Q764,242 774,241.5 Q784,241.5 785,246" fill="none" stroke="#777" stroke-width="1.2" stroke-linejoin="round" stroke-linecap="round"/>
<ellipse cx="773.0" cy="249.5" rx="4.0" ry="1.8" fill="none" stroke="#777" stroke-width="0.7" transform="rotate(8 773.0 249.5)"/>
<path d="M756.4,271.2 L754.6,300 Q763,304 773,300.5 L774.8,272.5" fill="#fff" stroke="#2a2a2a" stroke-width="1.0" stroke-linejoin="round" stroke-linecap="round"/>
<path d="M756.2,273.0 Q764.0,276.6 774.7,273.4" fill="none" stroke="#2a2a2a" stroke-width="1.0" stroke-linejoin="round" stroke-linecap="round"/>
<path d="M756.1,275.2 Q763.9,278.8 774.6,275.6" fill="none" stroke="#2a2a2a" stroke-width="1.0" stroke-linejoin="round" stroke-linecap="round"/>
<path d="M755.9,277.4 Q763.7,281.0 774.4,277.8" fill="none" stroke="#2a2a2a" stroke-width="1.0" stroke-linejoin="round" stroke-linecap="round"/>
<path d="M755.8,279.6 Q763.6,283.2 774.3,280.0" fill="none" stroke="#2a2a2a" stroke-width="1.0" stroke-linejoin="round" stroke-linecap="round"/>
<path d="M755.6,281.8 Q763.4,285.4 774.1,282.2" fill="none" stroke="#2a2a2a" stroke-width="1.0" stroke-linejoin="round" stroke-linecap="round"/>
<path d="M755.5,284.0 Q763.3,287.6 774.0,284.4" fill="none" stroke="#2a2a2a" stroke-width="1.0" stroke-linejoin="round" stroke-linecap="round"/>
<path d="M755.4,286.2 Q763.2,289.8 773.9,286.6" fill="none" stroke="#2a2a2a" stroke-width="1.0" stroke-linejoin="round" stroke-linecap="round"/>
<path d="M755.2,288.4 Q763.0,292.0 773.7,288.8" fill="none" stroke="#2a2a2a" stroke-width="1.0" stroke-linejoin="round" stroke-linecap="round"/>
<path d="M755.1,290.6 Q762.9,294.2 773.6,291.0" fill="none" stroke="#2a2a2a" stroke-width="1.0" stroke-linejoin="round" stroke-linecap="round"/>
<path d="M754.9,292.8 Q762.7,296.4 773.4,293.2" fill="none" stroke="#2a2a2a" stroke-width="1.0" stroke-linejoin="round" stroke-linecap="round"/>
<path d="M754.8,295.0 Q762.6,298.6 773.3,295.4" fill="none" stroke="#2a2a2a" stroke-width="1.0" stroke-linejoin="round" stroke-linecap="round"/>
<path d="M754.7,297.2 Q762.5,300.8 773.2,297.6" fill="none" stroke="#2a2a2a" stroke-width="1.0" stroke-linejoin="round" stroke-linecap="round"/>
<path d="M754.5,299.4 Q762.3,303.0 773.0,299.8" fill="none" stroke="#2a2a2a" stroke-width="1.0" stroke-linejoin="round" stroke-linecap="round"/>
<path d="M761.4,301.2 L755.5,352 M752.4,370.3 L753.5,400 C755,450 772,540 799,632 C812,675 817,715 815.8,737.8 Q815,741 812.3,741.3 C790,738 765,734 735,735 C715,736 695,739.5 677,739.5 C663,738 655,722 649.4,695" fill="none" stroke="#2a2a2a" stroke-width="1.0" stroke-linejoin="round" stroke-linecap="round"/>
<path d="M719.1,334.5 L752.4,317.6 L779.7,342.4" fill="none" stroke="#2a2a2a" stroke-width="1.1" stroke-linejoin="round" stroke-linecap="round"/>
<path d="M719.1,334.5 L718.5,368.5 L742.7,380.6" fill="none" stroke="#2a2a2a" stroke-width="1.1" stroke-linejoin="round" stroke-linecap="round"/>
<path d="M719.1,334.5 L760.3,353.3" fill="none" stroke="#2a2a2a" stroke-width="1.1" stroke-linejoin="round" stroke-linecap="round"/>
<path d="M760.3,353.3 L742.7,380.6 M761.3,355.5 L745.5,380.2 Q743.5,381 742.7,380.6" fill="none" stroke="#2a2a2a" stroke-width="1.0" stroke-linejoin="round" stroke-linecap="round"/>
<path d="M779.7,342.4 L779.7,346.5 L763.3,370.3 L756.1,366.1" fill="none" stroke="#2a2a2a" stroke-width="1.1" stroke-linejoin="round" stroke-linecap="round"/>
<path d="M777.3,344.2 L762.1,369.7 M778.6,345.2 L762.8,370 M776,343 L760.5,368.8" fill="none" stroke="#2a2a2a" stroke-width="0.6" stroke-linejoin="round" stroke-linecap="round"/>
<path d="M737.3,327.9 C737.5,336 741,341 748.8,345.5 C751,348 754,350.5 757.3,351.5" fill="none" stroke="#2a2a2a" stroke-width="0.9" stroke-linejoin="round" stroke-linecap="round"/>
<path d="M737.3,327.9 C740,325 750,325 755,328 C760,331 763,334 767,335.2 C771,336.5 774,337.5 776,341.2" fill="none" stroke="#2a2a2a" stroke-width="0.9" stroke-linejoin="round" stroke-linecap="round"/>
<path d="M742.1,326.1 L740.9,341.2 M744.5,326 L743.2,342.5" fill="none" stroke="#2a2a2a" stroke-width="0.8" stroke-linejoin="round" stroke-linecap="round"/>
<path d="M766.5,335.5 L758.5,351" fill="none" stroke="#2a2a2a" stroke-width="0.9" stroke-linejoin="round" stroke-linecap="round"/>
<path d="M605,647.4 L621.2,657.1 C630,661 640,666 647.1,673.3 C651,678 654,684 655.9,689.1 L639,695.2 C637,690 635.5,687 633.3,684.7 C630,681.5 628,680 626,679 L605,668.5 Z" fill="#fff" stroke="#2a2a2a" stroke-width="1.1" stroke-linejoin="round" stroke-linecap="round"/>
<path transform="translate(614.00,662.00) rotate(28.0)" d="M1.5,-10.0 C-3.2,-7.0 -3.2,7.0 1.5,10.0" fill="none" stroke="#2a2a2a" stroke-width="1.8"/>
<path transform="translate(614.00,662.00) rotate(28.0)" d="M3.6,-9.8 C-1.0,-7.0 -1.0,7.0 3.6,9.8" fill="none" stroke="#2a2a2a" stroke-width="0.7"/>
<path transform="translate(619.41,664.90) rotate(28.5)" d="M1.5,-9.9 C-3.2,-6.9 -3.2,6.9 1.5,9.9" fill="none" stroke="#2a2a2a" stroke-width="1.8"/>
<path transform="translate(619.41,664.90) rotate(28.5)" d="M3.6,-9.7 C-1.0,-6.9 -1.0,6.9 3.6,9.7" fill="none" stroke="#2a2a2a" stroke-width="0.7"/>
<path transform="translate(624.48,667.72) rotate(30.0)" d="M1.5,-9.8 C-3.2,-6.9 -3.2,6.9 1.5,9.8" fill="none" stroke="#2a2a2a" stroke-width="1.8"/>
<path transform="translate(624.48,667.72) rotate(30.0)" d="M3.6,-9.6 C-1.0,-6.9 -1.0,6.9 3.6,9.6" fill="none" stroke="#2a2a2a" stroke-width="0.7"/>
<path transform="translate(629.17,670.57) rotate(32.6)" d="M1.5,-9.7 C-3.2,-6.8 -3.2,6.8 1.5,9.7" fill="none" stroke="#2a2a2a" stroke-width="1.8"/>
<path transform="translate(629.17,670.57) rotate(32.6)" d="M3.6,-9.5 C-1.0,-6.8 -1.0,6.8 3.6,9.5" fill="none" stroke="#2a2a2a" stroke-width="0.7"/>
<path transform="translate(633.47,673.52) rotate(36.5)" d="M1.5,-9.6 C-3.2,-6.7 -3.2,6.7 1.5,9.6" fill="none" stroke="#2a2a2a" stroke-width="1.8"/>
<path transform="translate(633.47,673.52) rotate(36.5)" d="M3.6,-9.4 C-1.0,-6.7 -1.0,6.7 3.6,9.4" fill="none" stroke="#2a2a2a" stroke-width="0.7"/>
<path transform="translate(637.35,676.66) rotate(41.8)" d="M1.5,-9.5 C-3.2,-6.7 -3.2,6.7 1.5,9.5" fill="none" stroke="#2a2a2a" stroke-width="1.8"/>
<path transform="translate(637.35,676.66) rotate(41.8)" d="M3.6,-9.3 C-1.0,-6.7 -1.0,6.7 3.6,9.3" fill="none" stroke="#2a2a2a" stroke-width="0.7"/>
<path transform="translate(640.79,680.09) rotate(48.3)" d="M1.5,-9.4 C-3.2,-6.6 -3.2,6.6 1.5,9.4" fill="none" stroke="#2a2a2a" stroke-width="1.8"/>
<path transform="translate(640.79,680.09) rotate(48.3)" d="M3.6,-9.3 C-1.0,-6.6 -1.0,6.6 3.6,9.3" fill="none" stroke="#2a2a2a" stroke-width="0.7"/>
<path transform="translate(643.77,683.90) rotate(55.8)" d="M1.5,-9.3 C-3.2,-6.5 -3.2,6.5 1.5,9.3" fill="none" stroke="#2a2a2a" stroke-width="1.8"/>
<path transform="translate(643.77,683.90) rotate(55.8)" d="M3.6,-9.2 C-1.0,-6.5 -1.0,6.5 3.6,9.2" fill="none" stroke="#2a2a2a" stroke-width="0.7"/>
<path transform="translate(646.25,688.17) rotate(63.8)" d="M1.5,-9.3 C-3.2,-6.5 -3.2,6.5 1.5,9.3" fill="none" stroke="#2a2a2a" stroke-width="1.8"/>
<path transform="translate(646.25,688.17) rotate(63.8)" d="M3.6,-9.1 C-1.0,-6.5 -1.0,6.5 3.6,9.1" fill="none" stroke="#2a2a2a" stroke-width="0.7"/>
<path d="M579.2,656 C578.5,650 580,643 584,639 C587,636 591,635.2 594.5,635.5 C600,636 605,639 608.5,642.5 C611,645 612,648 611.4,650 L603.5,666.8 C600,669 595,668.5 591,666.5 L583.5,662.5 C580.5,660.5 579.4,658.5 579.2,656 Z" fill="#fff" stroke="#2a2a2a" stroke-width="1.1" stroke-linejoin="round" stroke-linecap="round"/>
<ellipse cx="586.7" cy="651.2" rx="6.4" ry="7.1" fill="none" stroke="#2a2a2a" stroke-width="0.9"/>
<ellipse cx="595.3" cy="640.6" rx="8.0" ry="4.1" fill="none" stroke="#2a2a2a" stroke-width="0.9" transform="rotate(12 595.3 640.6)"/>
<path d="M581.2,657.5 L591.5,659 L592.8,666.8" fill="none" stroke="#2a2a2a" stroke-width="0.8" stroke-linejoin="round" stroke-linecap="round"/>
<path d="M604.5,641 L601,645.5" fill="none" stroke="#2a2a2a" stroke-width="0.8" stroke-linejoin="round" stroke-linecap="round"/>
<path d="M611.6,647.5 C606,644.5 601,645 598,649 C594.5,653.5 593.4,659 594.2,663 C595,666.5 597.5,668.3 600.5,668.4 L606,667 L609,649 Z" fill="#fff" stroke="none" stroke-width="0" stroke-linejoin="round" stroke-linecap="round"/>
<path d="M611.6,647.5 C606,644.5 601,645 598,649 C594.5,653.5 593.4,659 594.2,663 C595,666.5 597.5,668.3 600.5,668.4" fill="none" stroke="#2a2a2a" stroke-width="1.1" stroke-linejoin="round" stroke-linecap="round"/>
<path d="M607.2,647.6 C604,646.8 600.5,648 598.5,651 C596.2,654.5 595.2,659 595.8,661.8 C596.5,664.5 599,666 603.5,666.4" fill="none" stroke="#2a2a2a" stroke-width="0.9" stroke-linejoin="round" stroke-linecap="round"/>
<circle cx="475.9" cy="23.9" r="12.6" fill="none" stroke="#c4c4c4" stroke-width="1"/>
<g fill="none" stroke="#3c3c3c" stroke-linecap="round" stroke-linejoin="round"><path transform="translate(472.95,18.00) scale(0.9833)" d="M1,2.6 L4,0 L4,12" stroke-width="1.017"/></g>
<line x1="470.6" y1="36.4" x2="455.7" y2="92.2" stroke="#a8a8a8" stroke-width="0.8"/>
<circle cx="430.6" cy="23.9" r="12.6" fill="none" stroke="#c4c4c4" stroke-width="1"/>
<g fill="none" stroke="#3c3c3c" stroke-linecap="round" stroke-linejoin="round"><path transform="translate(427.65,18.00) scale(0.9833)" d="M0.2,2.8 Q0.6,0 3,0 Q6,0 6,3 Q6,4.8 4.6,6.5 L0,12 L6.2,12" stroke-width="1.017"/></g>
<line x1="424.6" y1="36.4" x2="409.6" y2="93.8" stroke="#a8a8a8" stroke-width="0.8"/>
<circle cx="389.1" cy="23.9" r="12.6" fill="none" stroke="#c4c4c4" stroke-width="1"/>
<g fill="none" stroke="#3c3c3c" stroke-linecap="round" stroke-linejoin="round"><path transform="translate(386.15,18.00) scale(0.9833)" d="M0,0 L5,0 Q6,0 6,1 L6,4.8 Q6,5.8 5,5.8 L1.8,5.8 M5,5.8 Q6,5.8 6,6.8 L6,11 Q6,12 5,12 L0,12" stroke-width="1.017"/></g>
<line x1="391" y1="36.4" x2="392.6" y2="95.4" stroke="#a8a8a8" stroke-width="0.8"/>
<circle cx="282.4" cy="43.7" r="12.6" fill="none" stroke="#c4c4c4" stroke-width="1"/>
<g fill="none" stroke="#3c3c3c" stroke-linecap="round" stroke-linejoin="round"><path transform="translate(279.45,37.80) scale(0.9833)" d="M3.2,0 L0,8.6 L6.4,8.6 M4.8,5.2 L4.8,12" stroke-width="1.017"/></g>
<line x1="292.5" y1="51.3" x2="336.7" y2="84.6" stroke="#a8a8a8" stroke-width="0.8"/>
<circle cx="282.3" cy="127.9" r="12.6" fill="none" stroke="#c4c4c4" stroke-width="1"/>
<g fill="none" stroke="#3c3c3c" stroke-linecap="round" stroke-linejoin="round"><path transform="translate(279.35,122.00) scale(0.9833)" d="M6,0 L0.6,0 L0.2,5.2 Q1.4,4.5 3,4.5 Q6.1,4.5 6.1,8.2 Q6.1,12 3,12 Q0.6,12 0,10.4" stroke-width="1.017"/></g>
<line x1="295" y1="132.3" x2="347.7" y2="142" stroke="#a8a8a8" stroke-width="0.8"/>
<circle cx="282.3" cy="166.6" r="12.6" fill="none" stroke="#c4c4c4" stroke-width="1"/>
<g fill="none" stroke="#3c3c3c" stroke-linecap="round" stroke-linejoin="round"><path transform="translate(279.35,160.70) scale(0.9833)" d="M4.8,0 L1,6.5 Q0,8 0,9 Q0,12 3,12 Q6,12 6,9 Q6,6 3,6 Q1.8,6 1,6.6" stroke-width="1.017"/></g>
<line x1="295" y1="167.2" x2="341.1" y2="170.4" stroke="#a8a8a8" stroke-width="0.8"/>
<circle cx="282.3" cy="221.7" r="12.6" fill="none" stroke="#c4c4c4" stroke-width="1"/>
<g fill="none" stroke="#3c3c3c" stroke-linecap="round" stroke-linejoin="round"><path transform="translate(279.35,215.80) scale(0.9833)" d="M0,0 L6,0 L2,12" stroke-width="1.017"/></g>
<line x1="295" y1="223.2" x2="332.6" y2="226.6" stroke="#a8a8a8" stroke-width="0.8"/>
<circle cx="268.9" cy="305.7" r="12.6" fill="none" stroke="#c4c4c4" stroke-width="1"/>
<g fill="none" stroke="#3c3c3c" stroke-linecap="round" stroke-linejoin="round"><path transform="translate(265.95,299.80) scale(0.9833)" d="M3,5.6 Q0.3,5.6 0.3,2.8 Q0.3,0 3,0 Q5.7,0 5.7,2.8 Q5.7,5.6 3,5.6 Q0,5.6 0,8.8 Q0,12 3,12 Q6,12 6,8.8 Q6,5.6 3,5.6 Z" stroke-width="1.017"/></g>
<line x1="281.3" y1="307.4" x2="329.1" y2="313.3" stroke="#a8a8a8" stroke-width="0.8"/>
<circle cx="257.7" cy="408" r="12.6" fill="none" stroke="#c4c4c4" stroke-width="1"/>
<g fill="none" stroke="#3c3c3c" stroke-linecap="round" stroke-linejoin="round"><path transform="translate(254.75,402.10) scale(0.9833)" d="M1.2,12 L5,5.5 Q6,4 6,3 Q6,0 3,0 Q0,0 0,3 Q0,6 3,6 Q4.2,6 5,5.4" stroke-width="1.017"/></g>
<line x1="270" y1="411.9" x2="314.4" y2="425.3" stroke="#a8a8a8" stroke-width="0.8"/>
<circle cx="263.7" cy="473.2" r="12.6" fill="none" stroke="#c4c4c4" stroke-width="1"/>
<g fill="none" stroke="#3c3c3c" stroke-linecap="round" stroke-linejoin="round"><path transform="translate(257.01,467.30) scale(0.9833)" d="M1,2.6 L4,0 L4,12" stroke-width="1.017"/><path transform="translate(264.49,467.30) scale(0.9833)" d="M0,3 Q0,0 3,0 Q6,0 6,3 L6,9 Q6,12 3,12 Q0,12 0,9 Z" stroke-width="1.017"/></g>
<line x1="276.3" y1="473.6" x2="326.3" y2="478.1" stroke="#a8a8a8" stroke-width="0.8"/>
<circle cx="282.7" cy="520.6" r="12.6" fill="none" stroke="#c4c4c4" stroke-width="1"/>
<g fill="none" stroke="#3c3c3c" stroke-linecap="round" stroke-linejoin="round"><path transform="translate(276.01,514.70) scale(0.9833)" d="M1,2.6 L4,0 L4,12" stroke-width="1.017"/><path transform="translate(283.49,514.70) scale(0.9833)" d="M1,2.6 L4,0 L4,12" stroke-width="1.017"/></g>
<line x1="295.3" y1="519.5" x2="340.3" y2="515.8" stroke="#a8a8a8" stroke-width="0.8"/>
<circle cx="282.3" cy="571.2" r="12.6" fill="none" stroke="#c4c4c4" stroke-width="1"/>
<g fill="none" stroke="#3c3c3c" stroke-linecap="round" stroke-linejoin="round"><path transform="translate(275.61,565.30) scale(0.9833)" d="M1,2.6 L4,0 L4,12" stroke-width="1.017"/><path transform="translate(283.09,565.30) scale(0.9833)" d="M0.2,2.8 Q0.6,0 3,0 Q6,0 6,3 Q6,4.8 4.6,6.5 L0,12 L6.2,12" stroke-width="1.017"/></g>
<line x1="295" y1="572" x2="338.9" y2="575.2" stroke="#a8a8a8" stroke-width="0.8"/>
<circle cx="282.3" cy="629.1" r="12.6" fill="none" stroke="#c4c4c4" stroke-width="1"/>
<g fill="none" stroke="#3c3c3c" stroke-linecap="round" stroke-linejoin="round"><path transform="translate(275.61,623.20) scale(0.9833)" d="M1,2.6 L4,0 L4,12" stroke-width="1.017"/><path transform="translate(283.09,623.20) scale(0.9833)" d="M0,0 L5,0 Q6,0 6,1 L6,4.8 Q6,5.8 5,5.8 L1.8,5.8 M5,5.8 Q6,5.8 6,6.8 L6,11 Q6,12 5,12 L0,12" stroke-width="1.017"/></g>
<line x1="295" y1="629.7" x2="332.2" y2="631" stroke="#a8a8a8" stroke-width="0.8"/>
<circle cx="282.3" cy="696.4" r="12.6" fill="none" stroke="#c4c4c4" stroke-width="1"/>
<g fill="none" stroke="#3c3c3c" stroke-linecap="round" stroke-linejoin="round"><path transform="translate(275.61,690.50) scale(0.9833)" d="M1,2.6 L4,0 L4,12" stroke-width="1.017"/><path transform="translate(283.09,690.50) scale(0.9833)" d="M3.2,0 L0,8.6 L6.4,8.6 M4.8,5.2 L4.8,12" stroke-width="1.017"/></g>
<line x1="294" y1="692.4" x2="338.9" y2="677.6" stroke="#a8a8a8" stroke-width="0.8"/>
<circle cx="462.3" cy="139.1" r="12.6" fill="none" stroke="#c4c4c4" stroke-width="1"/>
<g fill="none" stroke="#3c3c3c" stroke-linecap="round" stroke-linejoin="round"><path transform="translate(455.61,133.20) scale(0.9833)" d="M1,2.6 L4,0 L4,12" stroke-width="1.017"/><path transform="translate(463.09,133.20) scale(0.9833)" d="M6,0 L0.6,0 L0.2,5.2 Q1.4,4.5 3,4.5 Q6.1,4.5 6.1,8.2 Q6.1,12 3,12 Q0.6,12 0,10.4" stroke-width="1.017"/></g>
<line x1="472" y1="147" x2="512.8" y2="180" stroke="#a8a8a8" stroke-width="0.8"/>
<circle cx="456.5" cy="188" r="12.6" fill="none" stroke="#c4c4c4" stroke-width="1"/>
<g fill="none" stroke="#3c3c3c" stroke-linecap="round" stroke-linejoin="round"><path transform="translate(449.81,182.10) scale(0.9833)" d="M1,2.6 L4,0 L4,12" stroke-width="1.017"/><path transform="translate(457.29,182.10) scale(0.9833)" d="M4.8,0 L1,6.5 Q0,8 0,9 Q0,12 3,12 Q6,12 6,9 Q6,6 3,6 Q1.8,6 1,6.6" stroke-width="1.017"/></g>
<line x1="467" y1="195" x2="512.6" y2="224.9" stroke="#a8a8a8" stroke-width="0.8"/>
<circle cx="453.3" cy="226" r="12.6" fill="none" stroke="#c4c4c4" stroke-width="1"/>
<g fill="none" stroke="#3c3c3c" stroke-linecap="round" stroke-linejoin="round"><path transform="translate(446.61,220.10) scale(0.9833)" d="M1,2.6 L4,0 L4,12" stroke-width="1.017"/><path transform="translate(454.09,220.10) scale(0.9833)" d="M0,0 L6,0 L2,12" stroke-width="1.017"/></g>
<line x1="465" y1="231.5" x2="513.6" y2="250.4" stroke="#a8a8a8" stroke-width="0.8"/>
<circle cx="469.1" cy="345.2" r="12.6" fill="none" stroke="#c4c4c4" stroke-width="1"/>
<g fill="none" stroke="#3c3c3c" stroke-linecap="round" stroke-linejoin="round"><path transform="translate(462.41,339.30) scale(0.9833)" d="M1,2.6 L4,0 L4,12" stroke-width="1.017"/><path transform="translate(469.89,339.30) scale(0.9833)" d="M3,5.6 Q0.3,5.6 0.3,2.8 Q0.3,0 3,0 Q5.7,0 5.7,2.8 Q5.7,5.6 3,5.6 Q0,5.6 0,8.8 Q0,12 3,12 Q6,12 6,8.8 Q6,5.6 3,5.6 Z" stroke-width="1.017"/></g>
<line x1="481.6" y1="344.5" x2="521" y2="338" stroke="#a8a8a8" stroke-width="0.8"/>
<circle cx="470.6" cy="387.2" r="12.6" fill="none" stroke="#c4c4c4" stroke-width="1"/>
<g fill="none" stroke="#3c3c3c" stroke-linecap="round" stroke-linejoin="round"><path transform="translate(463.91,381.30) scale(0.9833)" d="M1,2.6 L4,0 L4,12" stroke-width="1.017"/><path transform="translate(471.39,381.30) scale(0.9833)" d="M1.2,12 L5,5.5 Q6,4 6,3 Q6,0 3,0 Q0,0 0,3 Q0,6 3,6 Q4.2,6 5,5.4" stroke-width="1.017"/></g>
<line x1="483" y1="384" x2="526" y2="373.1" stroke="#a8a8a8" stroke-width="0.8"/>
<line x1="483" y1="384.5" x2="529.3" y2="378" stroke="#a8a8a8" stroke-width="0.8"/>
<circle cx="471.8" cy="429.1" r="12.6" fill="none" stroke="#c4c4c4" stroke-width="1"/>
<g fill="none" stroke="#3c3c3c" stroke-linecap="round" stroke-linejoin="round"><path transform="translate(465.11,423.20) scale(0.9833)" d="M0.2,2.8 Q0.6,0 3,0 Q6,0 6,3 Q6,4.8 4.6,6.5 L0,12 L6.2,12" stroke-width="1.017"/><path transform="translate(472.59,423.20) scale(0.9833)" d="M0,3 Q0,0 3,0 Q6,0 6,3 L6,9 Q6,12 3,12 Q0,12 0,9 Z" stroke-width="1.017"/></g>
<line x1="484" y1="425.5" x2="531.4" y2="413.6" stroke="#a8a8a8" stroke-width="0.8"/>
<circle cx="475.0" cy="463.5" r="12.6" fill="none" stroke="#c4c4c4" stroke-width="1"/>
<g fill="none" stroke="#3c3c3c" stroke-linecap="round" stroke-linejoin="round"><path transform="translate(468.31,457.60) scale(0.9833)" d="M0.2,2.8 Q0.6,0 3,0 Q6,0 6,3 Q6,4.8 4.6,6.5 L0,12 L6.2,12" stroke-width="1.017"/><path transform="translate(475.79,457.60) scale(0.9833)" d="M1,2.6 L4,0 L4,12" stroke-width="1.017"/></g>
<line x1="486" y1="459.5" x2="526.8" y2="447.9" stroke="#a8a8a8" stroke-width="0.8"/>
<circle cx="477.5" cy="501.8" r="12.6" fill="none" stroke="#c4c4c4" stroke-width="1"/>
<g fill="none" stroke="#3c3c3c" stroke-linecap="round" stroke-linejoin="round"><path transform="translate(470.81,495.90) scale(0.9833)" d="M0.2,2.8 Q0.6,0 3,0 Q6,0 6,3 Q6,4.8 4.6,6.5 L0,12 L6.2,12" stroke-width="1.017"/><path transform="translate(478.29,495.90) scale(0.9833)" d="M0.2,2.8 Q0.6,0 3,0 Q6,0 6,3 Q6,4.8 4.6,6.5 L0,12 L6.2,12" stroke-width="1.017"/></g>
<line x1="489.5" y1="498" x2="529.1" y2="485.8" stroke="#a8a8a8" stroke-width="0.8"/>
<circle cx="477.0" cy="532.0" r="12.6" fill="none" stroke="#c4c4c4" stroke-width="1"/>
<g fill="none" stroke="#3c3c3c" stroke-linecap="round" stroke-linejoin="round"><path transform="translate(470.31,526.10) scale(0.9833)" d="M0.2,2.8 Q0.6,0 3,0 Q6,0 6,3 Q6,4.8 4.6,6.5 L0,12 L6.2,12" stroke-width="1.017"/><path transform="translate(477.79,526.10) scale(0.9833)" d="M0,0 L5,0 Q6,0 6,1 L6,4.8 Q6,5.8 5,5.8 L1.8,5.8 M5,5.8 Q6,5.8 6,6.8 L6,11 Q6,12 5,12 L0,12" stroke-width="1.017"/></g>
<line x1="489" y1="528.5" x2="530.2" y2="516.7" stroke="#a8a8a8" stroke-width="0.8"/>
<circle cx="476.7" cy="562.0" r="12.6" fill="none" stroke="#c4c4c4" stroke-width="1"/>
<g fill="none" stroke="#3c3c3c" stroke-linecap="round" stroke-linejoin="round"><path transform="translate(470.01,556.10) scale(0.9833)" d="M0.2,2.8 Q0.6,0 3,0 Q6,0 6,3 Q6,4.8 4.6,6.5 L0,12 L6.2,12" stroke-width="1.017"/><path transform="translate(477.49,556.10) scale(0.9833)" d="M3.2,0 L0,8.6 L6.4,8.6 M4.8,5.2 L4.8,12" stroke-width="1.017"/></g>
<line x1="488.7" y1="558" x2="531.4" y2="544.4" stroke="#a8a8a8" stroke-width="0.8"/>
<circle cx="481.5" cy="588.9" r="12.6" fill="none" stroke="#c4c4c4" stroke-width="1"/>
<g fill="none" stroke="#3c3c3c" stroke-linecap="round" stroke-linejoin="round"><path transform="translate(474.81,583.00) scale(0.9833)" d="M0.2,2.8 Q0.6,0 3,0 Q6,0 6,3 Q6,4.8 4.6,6.5 L0,12 L6.2,12" stroke-width="1.017"/><path transform="translate(482.29,583.00) scale(0.9833)" d="M6,0 L0.6,0 L0.2,5.2 Q1.4,4.5 3,4.5 Q6.1,4.5 6.1,8.2 Q6.1,12 3,12 Q0.6,12 0,10.4" stroke-width="1.017"/></g>
<line x1="492.5" y1="583" x2="532.7" y2="564.6" stroke="#a8a8a8" stroke-width="0.8"/>
<circle cx="486.9" cy="623.9" r="12.6" fill="none" stroke="#c4c4c4" stroke-width="1"/>
<g fill="none" stroke="#3c3c3c" stroke-linecap="round" stroke-linejoin="round"><path transform="translate(480.21,618.00) scale(0.9833)" d="M0.2,2.8 Q0.6,0 3,0 Q6,0 6,3 Q6,4.8 4.6,6.5 L0,12 L6.2,12" stroke-width="1.017"/><path transform="translate(487.69,618.00) scale(0.9833)" d="M4.8,0 L1,6.5 Q0,8 0,9 Q0,12 3,12 Q6,12 6,9 Q6,6 3,6 Q1.8,6 1,6.6" stroke-width="1.017"/></g>
<line x1="497" y1="616" x2="528.7" y2="592.9" stroke="#a8a8a8" stroke-width="0.8"/>
<circle cx="522.9" cy="662.5" r="12.6" fill="none" stroke="#2e2e2e" stroke-width="1"/>
<g fill="none" stroke="#3c3c3c" stroke-linecap="round" stroke-linejoin="round"><path transform="translate(516.21,656.60) scale(0.9833)" d="M0.2,2.8 Q0.6,0 3,0 Q6,0 6,3 Q6,4.8 4.6,6.5 L0,12 L6.2,12" stroke-width="1.017"/><path transform="translate(523.69,656.60) scale(0.9833)" d="M0,0 L6,0 L2,12" stroke-width="1.017"/></g>
<line x1="531.3" y1="652.7" x2="545" y2="630.1" stroke="#2a2a2a" stroke-width="1.0"/>
<circle cx="582.8" cy="697.8" r="12.6" fill="none" stroke="#2e2e2e" stroke-width="1"/>
<g fill="none" stroke="#3c3c3c" stroke-linecap="round" stroke-linejoin="round"><path transform="translate(576.11,691.90) scale(0.9833)" d="M0.2,2.8 Q0.6,0 3,0 Q6,0 6,3 Q6,4.8 4.6,6.5 L0,12 L6.2,12" stroke-width="1.017"/><path transform="translate(583.59,691.90) scale(0.9833)" d="M3,5.6 Q0.3,5.6 0.3,2.8 Q0.3,0 3,0 Q5.7,0 5.7,2.8 Q5.7,5.6 3,5.6 Q0,5.6 0,8.8 Q0,12 3,12 Q6,12 6,8.8 Q6,5.6 3,5.6 Z" stroke-width="1.017"/></g>
<line x1="591.6" y1="688.6" x2="604.5" y2="665.4" stroke="#2a2a2a" stroke-width="1.0"/>
<circle cx="813.9" cy="403.8" r="12.6" fill="none" stroke="#c4c4c4" stroke-width="1"/>
<g fill="none" stroke="#3c3c3c" stroke-linecap="round" stroke-linejoin="round"><path transform="translate(807.21,397.90) scale(0.9833)" d="M0.2,2.8 Q0.6,0 3,0 Q6,0 6,3 Q6,4.8 4.6,6.5 L0,12 L6.2,12" stroke-width="1.017"/><path transform="translate(814.69,397.90) scale(0.9833)" d="M1.2,12 L5,5.5 Q6,4 6,3 Q6,0 3,0 Q0,0 0,3 Q0,6 3,6 Q4.2,6 5,5.4" stroke-width="1.017"/></g>
<line x1="803.6" y1="395.8" x2="767.5" y2="370.2" stroke="#a8a8a8" stroke-width="0.8"/>
<circle cx="899.0" cy="114.2" r="12.6" fill="none" stroke="#c4c4c4" stroke-width="1"/>
<g fill="none" stroke="#3c3c3c" stroke-linecap="round" stroke-linejoin="round"><path transform="translate(892.31,108.30) scale(0.9833)" d="M0,0 L5,0 Q6,0 6,1 L6,4.8 Q6,5.8 5,5.8 L1.8,5.8 M5,5.8 Q6,5.8 6,6.8 L6,11 Q6,12 5,12 L0,12" stroke-width="1.017"/><path transform="translate(899.79,108.30) scale(0.9833)" d="M0,3 Q0,0 3,0 Q6,0 6,3 L6,9 Q6,12 3,12 Q0,12 0,9 Z" stroke-width="1.017"/></g>
<line x1="886.8" y1="106.2" x2="816.2" y2="87.1" stroke="#2a2a2a" stroke-width="1.0"/>
<circle cx="641.1" cy="301.9" r="12.6" fill="none" stroke="#c4c4c4" stroke-width="1"/>
<g fill="none" stroke="#3c3c3c" stroke-linecap="round" stroke-linejoin="round"><path transform="translate(634.41,296.00) scale(0.9833)" d="M0,0 L5,0 Q6,0 6,1 L6,4.8 Q6,5.8 5,5.8 L1.8,5.8 M5,5.8 Q6,5.8 6,6.8 L6,11 Q6,12 5,12 L0,12" stroke-width="1.017"/><path transform="translate(641.89,296.00) scale(0.9833)" d="M1,2.6 L4,0 L4,12" stroke-width="1.017"/></g>
<line x1="630" y1="308" x2="594.6" y2="326.4" stroke="#a8a8a8" stroke-width="0.8"/>
<circle cx="643.7" cy="341.7" r="12.6" fill="none" stroke="#c4c4c4" stroke-width="1"/>
<g fill="none" stroke="#3c3c3c" stroke-linecap="round" stroke-linejoin="round"><path transform="translate(637.01,335.80) scale(0.9833)" d="M0,0 L5,0 Q6,0 6,1 L6,4.8 Q6,5.8 5,5.8 L1.8,5.8 M5,5.8 Q6,5.8 6,6.8 L6,11 Q6,12 5,12 L0,12" stroke-width="1.017"/><path transform="translate(644.49,335.80) scale(0.9833)" d="M0.2,2.8 Q0.6,0 3,0 Q6,0 6,3 Q6,4.8 4.6,6.5 L0,12 L6.2,12" stroke-width="1.017"/></g>
<line x1="631.5" y1="345" x2="598.1" y2="353.6" stroke="#a8a8a8" stroke-width="0.8"/>
<circle cx="649.0" cy="386.9" r="12.6" fill="none" stroke="#c4c4c4" stroke-width="1"/>
<g fill="none" stroke="#3c3c3c" stroke-linecap="round" stroke-linejoin="round"><path transform="translate(642.31,381.00) scale(0.9833)" d="M0,0 L5,0 Q6,0 6,1 L6,4.8 Q6,5.8 5,5.8 L1.8,5.8 M5,5.8 Q6,5.8 6,6.8 L6,11 Q6,12 5,12 L0,12" stroke-width="1.017"/><path transform="translate(649.79,381.00) scale(0.9833)" d="M0,0 L5,0 Q6,0 6,1 L6,4.8 Q6,5.8 5,5.8 L1.8,5.8 M5,5.8 Q6,5.8 6,6.8 L6,11 Q6,12 5,12 L0,12" stroke-width="1.017"/></g>
<line x1="636.4" y1="386" x2="603.4" y2="383.4" stroke="#a8a8a8" stroke-width="0.8"/>
</g></svg></body></html>
